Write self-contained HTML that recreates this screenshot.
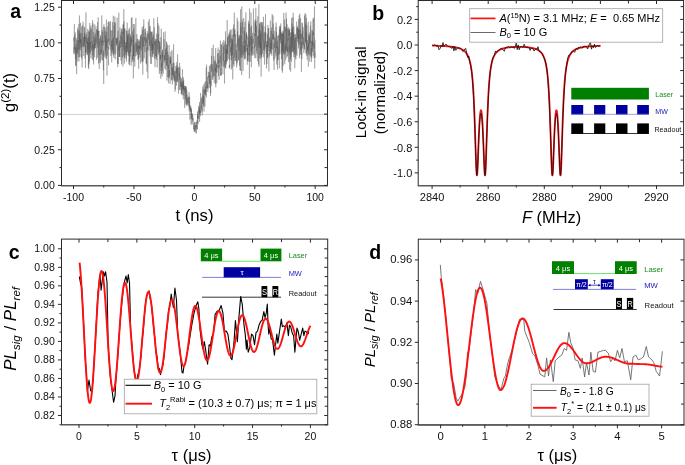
<!DOCTYPE html>
<html><head><meta charset="utf-8"><style>
html,body{margin:0;padding:0;background:#fff;width:685px;height:465px;overflow:hidden;font-family:"Liberation Sans", sans-serif;}
</style></head><body>
<svg width="685" height="465" viewBox="0 0 685 465" style="position:absolute;left:0;top:0;will-change:transform;font-family:&quot;Liberation Sans&quot;, sans-serif">
<line x1="61.50" y1="114.50" x2="327.50" y2="114.50" stroke="#d2d2d2" stroke-width="1" />
<path d="M73.50,41.40 L73.62,37.53 L73.74,44.98 L73.86,52.99 L73.98,47.33 L74.10,54.31 L74.23,40.64 L74.35,24.00 L74.47,47.82 L74.59,49.49 L74.71,35.06 L74.83,36.79 L74.95,40.06 L75.07,53.52 L75.19,41.81 L75.31,32.40 L75.43,58.90 L75.56,47.38 L75.68,66.14 L75.80,58.19 L75.92,65.37 L76.04,44.49 L76.16,57.91 L76.28,37.92 L76.40,39.41 L76.52,43.87 L76.64,74.15 L76.76,48.45 L76.89,42.08 L77.01,39.98 L77.13,61.33 L77.25,47.66 L77.37,54.17 L77.49,51.96 L77.61,27.67 L77.73,51.95 L77.85,41.88 L77.97,29.97 L78.09,49.04 L78.22,42.91 L78.34,40.03 L78.46,40.63 L78.58,57.38 L78.70,40.48 L78.82,23.81 L78.94,61.57 L79.06,30.30 L79.18,39.92 L79.30,49.80 L79.42,15.49 L79.55,31.57 L79.67,57.05 L79.79,40.51 L79.91,33.99 L80.03,43.93 L80.15,32.61 L80.27,42.34 L80.39,32.81 L80.51,22.80 L80.63,50.26 L80.75,38.85 L80.88,47.50 L81.00,39.84 L81.12,56.91 L81.24,49.01 L81.36,44.04 L81.48,29.82 L81.60,26.62 L81.72,58.69 L81.84,51.82 L81.96,33.10 L82.08,67.38 L82.21,47.52 L82.33,42.76 L82.45,25.18 L82.57,32.55 L82.69,45.75 L82.81,46.29 L82.93,44.76 L83.05,21.72 L83.17,47.07 L83.29,45.45 L83.41,36.93 L83.54,43.08 L83.66,44.08 L83.78,55.98 L83.90,41.67 L84.02,47.28 L84.14,26.38 L84.26,33.04 L84.38,41.83 L84.50,32.84 L84.62,45.94 L84.74,27.86 L84.87,41.60 L84.99,33.95 L85.11,58.29 L85.23,37.03 L85.35,63.45 L85.47,67.96 L85.59,45.49 L85.71,53.22 L85.83,39.41 L85.95,12.39 L86.07,52.34 L86.20,49.64 L86.32,38.87 L86.44,35.14 L86.56,43.83 L86.68,44.22 L86.80,32.43 L86.92,34.80 L87.04,54.97 L87.16,42.58 L87.28,41.09 L87.40,55.24 L87.53,38.18 L87.65,52.69 L87.77,28.94 L87.89,39.05 L88.01,40.40 L88.13,49.23 L88.25,43.10 L88.37,67.49 L88.49,56.25 L88.61,36.85 L88.73,69.19 L88.86,30.58 L88.98,64.23 L89.10,31.75 L89.22,52.54 L89.34,31.46 L89.46,39.87 L89.58,61.52 L89.70,25.36 L89.82,22.86 L89.94,42.43 L90.06,45.13 L90.19,43.65 L90.31,54.24 L90.43,27.32 L90.55,48.63 L90.67,42.25 L90.79,51.88 L90.91,49.71 L91.03,58.17 L91.15,25.27 L91.27,43.59 L91.39,29.06 L91.52,41.42 L91.64,50.60 L91.76,45.83 L91.88,48.86 L92.00,41.49 L92.12,46.47 L92.24,45.49 L92.36,59.49 L92.48,52.07 L92.60,20.14 L92.72,50.31 L92.85,55.28 L92.97,37.23 L93.09,23.35 L93.21,60.47 L93.33,44.31 L93.45,49.81 L93.57,64.46 L93.69,32.08 L93.81,41.92 L93.93,40.69 L94.05,51.38 L94.18,35.72 L94.30,48.62 L94.42,43.47 L94.54,56.00 L94.66,57.40 L94.78,24.30 L94.90,48.20 L95.02,37.84 L95.14,42.07 L95.26,47.35 L95.38,48.22 L95.51,33.46 L95.63,45.55 L95.75,43.60 L95.87,41.35 L95.99,26.37 L96.11,32.81 L96.23,36.68 L96.35,48.95 L96.47,59.57 L96.59,29.33 L96.71,29.11 L96.84,43.47 L96.96,34.62 L97.08,31.51 L97.20,30.87 L97.32,29.70 L97.44,47.56 L97.56,22.00 L97.68,57.82 L97.80,30.48 L97.92,35.25 L98.04,30.33 L98.17,17.29 L98.29,22.41 L98.41,56.51 L98.53,63.56 L98.65,31.07 L98.77,54.83 L98.89,41.82 L99.01,30.78 L99.13,62.98 L99.25,69.03 L99.37,38.31 L99.50,41.09 L99.62,44.86 L99.74,41.17 L99.86,52.83 L99.98,61.30 L100.10,43.84 L100.22,54.28 L100.34,62.99 L100.46,35.12 L100.58,42.48 L100.70,36.41 L100.83,54.51 L100.95,50.22 L101.07,54.64 L101.19,53.18 L101.31,39.15 L101.43,51.84 L101.55,37.07 L101.67,37.29 L101.79,15.44 L101.91,59.75 L102.03,30.18 L102.16,42.86 L102.28,41.88 L102.40,60.49 L102.52,47.67 L102.64,32.07 L102.76,42.77 L102.88,40.65 L103.00,45.47 L103.12,26.74 L103.24,41.99 L103.36,70.23 L103.49,50.68 L103.61,67.23 L103.73,83.86 L103.85,48.58 L103.97,24.43 L104.09,41.10 L104.21,56.91 L104.33,53.91 L104.45,27.06 L104.57,39.68 L104.69,41.10 L104.82,42.42 L104.94,41.23 L105.06,31.29 L105.18,34.56 L105.30,38.93 L105.42,55.24 L105.54,35.11 L105.66,50.60 L105.78,27.56 L105.90,58.21 L106.02,43.52 L106.15,41.83 L106.27,58.90 L106.39,19.42 L106.51,22.81 L106.63,47.75 L106.75,31.74 L106.87,36.84 L106.99,75.61 L107.11,38.50 L107.23,42.54 L107.35,40.67 L107.48,55.70 L107.60,45.24 L107.72,44.06 L107.84,26.36 L107.96,37.42 L108.08,41.83 L108.20,21.94 L108.32,48.95 L108.44,46.80 L108.56,65.30 L108.68,21.43 L108.81,29.27 L108.93,29.88 L109.05,33.10 L109.17,40.34 L109.29,38.97 L109.41,45.03 L109.53,44.41 L109.65,41.07 L109.77,22.18 L109.89,34.57 L110.01,42.53 L110.14,49.28 L110.26,50.00 L110.38,21.01 L110.50,35.21 L110.62,40.90 L110.74,46.27 L110.86,56.15 L110.98,42.65 L111.10,30.47 L111.22,46.87 L111.34,44.73 L111.47,44.65 L111.59,40.37 L111.71,62.42 L111.83,44.84 L111.95,52.86 L112.07,30.34 L112.19,51.78 L112.31,34.32 L112.43,22.05 L112.55,45.86 L112.67,49.59 L112.80,39.32 L112.92,41.83 L113.04,54.67 L113.16,35.83 L113.28,15.70 L113.40,45.15 L113.52,44.44 L113.64,55.34 L113.76,37.68 L113.88,57.96 L114.01,56.15 L114.13,25.24 L114.25,53.54 L114.37,27.81 L114.49,22.08 L114.61,38.46 L114.73,34.65 L114.85,16.54 L114.97,44.37 L115.09,49.50 L115.21,59.35 L115.34,41.29 L115.46,22.67 L115.58,29.40 L115.70,54.03 L115.82,52.91 L115.94,48.36 L116.06,38.05 L116.18,44.49 L116.30,39.06 L116.42,37.99 L116.54,45.71 L116.67,42.36 L116.79,39.17 L116.91,42.93 L117.03,35.32 L117.15,17.62 L117.27,34.18 L117.39,41.12 L117.51,63.68 L117.63,36.83 L117.75,67.05 L117.87,60.09 L118.00,30.79 L118.12,32.71 L118.24,43.80 L118.36,63.99 L118.48,46.66 L118.60,50.64 L118.72,33.61 L118.84,12.63 L118.96,39.05 L119.08,51.95 L119.20,57.02 L119.33,42.59 L119.45,44.15 L119.57,56.77 L119.69,40.36 L119.81,56.77 L119.93,27.48 L120.05,28.12 L120.17,27.83 L120.29,48.01 L120.41,35.22 L120.53,43.59 L120.66,46.91 L120.78,46.27 L120.90,58.70 L121.02,60.57 L121.14,31.60 L121.26,44.36 L121.38,39.08 L121.50,28.92 L121.62,64.32 L121.74,52.04 L121.86,39.62 L121.99,36.82 L122.11,46.77 L122.23,28.57 L122.35,39.17 L122.47,57.60 L122.59,53.94 L122.71,31.47 L122.83,35.90 L122.95,66.48 L123.07,24.46 L123.19,34.16 L123.32,24.52 L123.44,46.87 L123.56,45.73 L123.68,56.48 L123.80,9.08 L123.92,44.18 L124.04,21.37 L124.16,50.29 L124.28,39.79 L124.40,63.54 L124.52,46.87 L124.65,29.19 L124.77,58.11 L124.89,28.05 L125.01,37.56 L125.13,55.43 L125.25,48.41 L125.37,47.86 L125.49,42.57 L125.61,48.86 L125.73,52.63 L125.85,45.87 L125.98,55.22 L126.10,58.61 L126.22,42.56 L126.34,30.51 L126.46,61.72 L126.58,41.89 L126.70,50.35 L126.82,54.58 L126.94,30.90 L127.06,48.64 L127.18,22.56 L127.31,52.03 L127.43,36.95 L127.55,44.89 L127.67,51.70 L127.79,34.35 L127.91,43.95 L128.03,34.15 L128.15,42.56 L128.27,56.00 L128.39,43.27 L128.51,41.28 L128.64,29.56 L128.76,53.68 L128.88,42.47 L129.00,64.23 L129.12,33.54 L129.24,55.95 L129.36,65.33 L129.48,42.73 L129.60,27.67 L129.72,61.68 L129.84,56.04 L129.97,51.58 L130.09,56.58 L130.21,37.07 L130.33,52.41 L130.45,51.30 L130.57,34.43 L130.69,51.75 L130.81,36.38 L130.93,54.54 L131.05,57.65 L131.17,65.72 L131.30,17.92 L131.42,46.12 L131.54,38.83 L131.66,42.39 L131.78,39.92 L131.90,41.35 L132.02,17.32 L132.14,55.42 L132.26,62.13 L132.38,55.08 L132.50,59.25 L132.63,32.34 L132.75,31.39 L132.87,54.43 L132.99,59.98 L133.11,46.59 L133.23,24.02 L133.35,78.46 L133.47,35.20 L133.59,55.91 L133.71,28.56 L133.83,55.94 L133.96,45.70 L134.08,61.48 L134.20,54.64 L134.32,24.10 L134.44,31.41 L134.56,47.21 L134.68,53.26 L134.80,66.50 L134.92,47.11 L135.04,42.42 L135.16,43.11 L135.29,43.23 L135.41,56.52 L135.53,42.88 L135.65,42.53 L135.77,25.35 L135.89,17.90 L136.01,43.80 L136.13,51.93 L136.25,42.87 L136.37,49.89 L136.49,51.63 L136.62,42.79 L136.74,55.52 L136.86,34.20 L136.98,43.38 L137.10,38.81 L137.22,44.41 L137.34,51.44 L137.46,54.29 L137.58,45.11 L137.70,49.14 L137.82,39.02 L137.95,42.11 L138.07,59.65 L138.19,41.18 L138.31,59.40 L138.43,50.02 L138.55,45.86 L138.67,68.87 L138.79,40.87 L138.91,40.11 L139.03,44.10 L139.15,47.54 L139.28,46.89 L139.40,54.68 L139.52,45.55 L139.64,49.20 L139.76,40.88 L139.88,57.63 L140.00,39.02 L140.12,40.22 L140.24,43.90 L140.36,47.75 L140.48,34.94 L140.61,63.58 L140.73,36.13 L140.85,38.94 L140.97,38.42 L141.09,37.13 L141.21,50.52 L141.33,45.43 L141.45,33.85 L141.57,36.52 L141.69,39.41 L141.81,61.65 L141.94,35.14 L142.06,26.98 L142.18,29.05 L142.30,39.07 L142.42,62.21 L142.54,29.92 L142.66,44.00 L142.78,74.81 L142.90,37.22 L143.02,61.37 L143.14,58.85 L143.27,50.30 L143.39,25.66 L143.51,46.89 L143.63,38.60 L143.75,19.53 L143.87,21.52 L143.99,43.44 L144.11,45.23 L144.23,58.40 L144.35,51.08 L144.47,36.62 L144.60,37.00 L144.72,40.69 L144.84,29.27 L144.96,52.09 L145.08,42.84 L145.20,32.68 L145.32,34.58 L145.44,28.29 L145.56,37.00 L145.68,46.12 L145.80,37.45 L145.93,55.07 L146.05,63.31 L146.17,34.72 L146.29,42.98 L146.41,38.36 L146.53,64.27 L146.65,47.16 L146.77,50.24 L146.89,53.70 L147.01,71.63 L147.13,47.01 L147.26,31.25 L147.38,37.94 L147.50,50.60 L147.62,43.15 L147.74,33.32 L147.86,78.42 L147.98,44.74 L148.10,36.26 L148.22,34.55 L148.34,21.61 L148.46,28.90 L148.59,39.47 L148.71,39.67 L148.83,33.55 L148.95,50.51 L149.07,44.22 L149.19,32.24 L149.31,18.94 L149.43,45.91 L149.55,44.57 L149.67,41.50 L149.79,27.04 L149.92,44.52 L150.04,25.58 L150.16,56.51 L150.28,46.68 L150.40,46.90 L150.52,34.51 L150.64,31.31 L150.76,63.64 L150.88,56.19 L151.00,40.45 L151.12,53.07 L151.25,64.01 L151.37,31.81 L151.49,38.73 L151.61,38.81 L151.73,51.05 L151.85,32.21 L151.97,48.21 L152.09,31.50 L152.21,56.76 L152.33,56.09 L152.45,42.88 L152.58,54.30 L152.70,37.12 L152.82,42.38 L152.94,57.23 L153.06,44.85 L153.18,50.21 L153.30,34.46 L153.42,53.83 L153.54,51.48 L153.66,30.99 L153.78,18.27 L153.91,21.33 L154.03,45.47 L154.15,43.60 L154.27,27.34 L154.39,47.99 L154.51,58.62 L154.63,45.12 L154.75,41.04 L154.87,56.96 L154.99,67.13 L155.11,64.59 L155.24,38.66 L155.36,56.31 L155.48,48.75 L155.60,44.45 L155.72,39.50 L155.84,51.32 L155.96,41.11 L156.08,58.27 L156.20,51.83 L156.32,60.04 L156.44,33.60 L156.57,47.90 L156.69,56.70 L156.81,52.01 L156.93,50.47 L157.05,39.23 L157.17,67.42 L157.29,60.63 L157.41,52.63 L157.53,17.11 L157.65,36.45 L157.77,49.55 L157.90,39.57 L158.02,23.23 L158.14,51.23 L158.26,52.90 L158.38,33.75 L158.50,42.59 L158.62,40.59 L158.74,55.06 L158.86,25.75 L158.98,28.53 L159.10,42.52 L159.23,41.25 L159.35,74.06 L159.47,42.14 L159.59,52.29 L159.71,44.91 L159.83,42.09 L159.95,54.49 L160.07,70.74 L160.19,46.33 L160.31,59.69 L160.43,54.94 L160.56,58.34 L160.68,55.37 L160.80,78.79 L160.92,37.25 L161.04,48.78 L161.16,38.83 L161.28,28.79 L161.40,51.96 L161.52,73.51 L161.64,62.99 L161.76,66.79 L161.89,58.69 L162.01,52.05 L162.13,76.44 L162.25,49.30 L162.37,70.96 L162.49,50.14 L162.61,55.01 L162.73,57.51 L162.85,54.88 L162.97,60.41 L163.09,61.39 L163.22,73.82 L163.34,54.99 L163.46,33.67 L163.58,32.31 L163.70,40.01 L163.82,47.21 L163.94,63.10 L164.06,39.16 L164.18,56.34 L164.30,56.64 L164.42,59.30 L164.55,55.12 L164.67,61.22 L164.79,57.41 L164.91,68.81 L165.03,60.96 L165.15,31.35 L165.27,57.85 L165.39,59.89 L165.51,51.43 L165.63,49.63 L165.75,70.06 L165.88,60.12 L166.00,47.79 L166.12,55.14 L166.24,56.93 L166.36,41.28 L166.48,66.05 L166.60,57.82 L166.72,64.60 L166.84,42.69 L166.96,80.56 L167.08,66.66 L167.21,65.26 L167.33,52.41 L167.45,53.19 L167.57,44.78 L167.69,77.17 L167.81,52.11 L167.93,63.57 L168.05,67.73 L168.17,54.88 L168.29,70.75 L168.41,83.32 L168.54,65.12 L168.66,77.35 L168.78,68.40 L168.90,57.64 L169.02,58.43 L169.14,45.01 L169.26,64.18 L169.38,78.48 L169.50,70.37 L169.62,72.24 L169.74,75.53 L169.87,58.22 L169.99,69.76 L170.11,83.90 L170.23,55.96 L170.35,64.59 L170.47,59.87 L170.59,62.72 L170.71,57.47 L170.83,63.87 L170.95,51.69 L171.07,60.32 L171.20,60.90 L171.32,60.95 L171.44,80.33 L171.56,67.29 L171.68,68.48 L171.80,63.94 L171.92,80.08 L172.04,49.94 L172.16,65.67 L172.28,79.16 L172.40,84.36 L172.53,70.21 L172.65,68.51 L172.77,75.01 L172.89,67.14 L173.01,74.65 L173.13,63.04 L173.25,75.89 L173.37,69.33 L173.49,59.54 L173.61,44.16 L173.73,79.48 L173.86,74.38 L173.98,78.24 L174.10,62.67 L174.22,81.64 L174.34,75.41 L174.46,71.24 L174.58,80.59 L174.70,80.59 L174.82,76.18 L174.94,91.90 L175.06,85.83 L175.19,76.21 L175.31,71.11 L175.43,74.49 L175.55,89.68 L175.67,77.54 L175.79,65.92 L175.91,68.43 L176.03,74.59 L176.15,82.33 L176.27,68.44 L176.39,79.88 L176.52,85.54 L176.64,82.35 L176.76,61.89 L176.88,73.40 L177.00,65.05 L177.12,80.22 L177.24,67.56 L177.36,81.75 L177.48,77.95 L177.60,54.34 L177.72,70.08 L177.85,81.69 L177.97,78.18 L178.09,74.73 L178.21,67.12 L178.33,82.49 L178.45,93.81 L178.57,81.16 L178.69,78.83 L178.81,78.28 L178.93,68.03 L179.05,77.02 L179.18,73.01 L179.30,89.82 L179.42,73.12 L179.54,62.88 L179.66,74.52 L179.78,79.24 L179.90,80.36 L180.02,66.82 L180.14,90.02 L180.26,83.41 L180.38,78.89 L180.51,76.81 L180.63,86.92 L180.75,81.01 L180.87,86.12 L180.99,83.11 L181.11,85.45 L181.23,93.97 L181.35,85.08 L181.47,78.06 L181.59,93.27 L181.71,87.66 L181.84,80.65 L181.96,94.82 L182.08,85.07 L182.20,95.22 L182.32,78.09 L182.44,69.09 L182.56,71.71 L182.68,89.60 L182.80,82.37 L182.92,87.48 L183.04,87.90 L183.17,77.01 L183.29,99.38 L183.41,81.41 L183.53,90.14 L183.65,79.33 L183.77,88.89 L183.89,95.66 L184.01,88.77 L184.13,85.60 L184.25,91.12 L184.37,88.03 L184.50,95.80 L184.62,107.96 L184.74,85.85 L184.86,87.62 L184.98,91.93 L185.10,92.78 L185.22,86.04 L185.34,97.12 L185.46,99.17 L185.58,95.71 L185.70,86.15 L185.83,104.76 L185.95,86.74 L186.07,99.95 L186.19,103.51 L186.31,87.41 L186.43,97.28 L186.55,105.99 L186.67,99.90 L186.79,91.52 L186.91,90.21 L187.03,101.56 L187.16,96.39 L187.28,94.78 L187.40,104.19 L187.52,98.03 L187.64,100.98 L187.76,104.66 L187.88,104.77 L188.00,101.59 L188.12,102.25 L188.24,106.42 L188.36,105.94 L188.49,96.76 L188.61,102.78 L188.73,99.08 L188.85,97.60 L188.97,101.78 L189.09,92.10 L189.21,111.11 L189.33,101.80 L189.45,108.89 L189.57,96.56 L189.69,97.96 L189.82,119.55 L189.94,114.23 L190.06,105.31 L190.18,105.04 L190.30,105.79 L190.42,110.74 L190.54,108.24 L190.66,107.59 L190.78,112.01 L190.90,106.44 L191.02,124.56 L191.15,109.46 L191.27,118.73 L191.39,108.63 L191.51,115.28 L191.63,119.10 L191.75,113.00 L191.87,119.98 L191.99,120.48 L192.11,124.37 L192.23,117.37 L192.35,115.51 L192.48,113.70 L192.60,119.95 L192.72,115.08 L192.84,120.56 L192.96,121.75 L193.08,119.44 L193.20,118.02 L193.32,124.85 L193.44,125.09 L193.56,125.41 L193.68,125.06 L193.81,129.78 L193.93,122.62 L194.05,129.05 L194.17,126.32 L194.29,132.00 L194.41,128.13 L194.53,128.71 L194.65,131.85 L194.77,122.19 L194.89,127.92 L195.02,122.02 L195.14,124.66 L195.26,130.54 L195.38,128.98 L195.50,125.23 L195.62,126.27 L195.74,125.85 L195.86,126.77 L195.98,132.69 L196.10,125.59 L196.22,133.65 L196.35,122.09 L196.47,126.40 L196.59,125.91 L196.71,123.26 L196.83,120.59 L196.95,127.84 L197.07,128.88 L197.19,125.33 L197.31,129.46 L197.43,124.02 L197.55,111.44 L197.68,123.60 L197.80,114.91 L197.92,124.29 L198.04,115.64 L198.16,118.24 L198.28,116.48 L198.40,112.83 L198.52,106.27 L198.64,113.77 L198.76,113.65 L198.88,118.93 L199.01,110.28 L199.13,114.20 L199.25,107.95 L199.37,112.18 L199.49,101.97 L199.61,121.93 L199.73,112.18 L199.85,105.13 L199.97,111.58 L200.09,113.64 L200.21,110.19 L200.34,116.18 L200.46,107.04 L200.58,92.94 L200.70,100.03 L200.82,112.95 L200.94,111.12 L201.06,107.86 L201.18,98.82 L201.30,109.52 L201.42,108.28 L201.54,98.03 L201.67,97.65 L201.79,104.98 L201.91,109.27 L202.03,111.64 L202.15,105.74 L202.27,115.28 L202.39,95.36 L202.51,103.98 L202.63,96.15 L202.75,86.37 L202.87,90.50 L203.00,105.78 L203.12,91.54 L203.24,89.05 L203.36,101.74 L203.48,102.75 L203.60,96.40 L203.72,106.50 L203.84,84.21 L203.96,111.49 L204.08,101.76 L204.20,95.26 L204.33,94.50 L204.45,91.14 L204.57,89.89 L204.69,93.03 L204.81,82.43 L204.93,106.68 L205.05,90.04 L205.17,95.04 L205.29,88.09 L205.41,86.93 L205.53,95.29 L205.66,92.74 L205.78,80.98 L205.90,84.09 L206.02,91.98 L206.14,69.93 L206.26,67.39 L206.38,97.43 L206.50,82.89 L206.62,64.62 L206.74,78.32 L206.86,82.60 L206.99,85.81 L207.11,88.26 L207.23,85.25 L207.35,87.76 L207.47,76.65 L207.59,85.91 L207.71,85.97 L207.83,92.12 L207.95,82.06 L208.07,88.96 L208.19,82.57 L208.32,71.77 L208.44,77.26 L208.56,75.74 L208.68,76.71 L208.80,78.98 L208.92,80.30 L209.04,81.58 L209.16,71.88 L209.28,87.86 L209.40,66.05 L209.52,77.35 L209.65,84.04 L209.77,81.43 L209.89,82.83 L210.01,74.97 L210.13,82.63 L210.25,65.40 L210.37,82.65 L210.49,96.06 L210.61,81.62 L210.73,93.15 L210.85,74.64 L210.98,64.10 L211.10,67.60 L211.22,85.90 L211.34,80.22 L211.46,55.93 L211.58,69.41 L211.70,72.08 L211.82,61.73 L211.94,48.00 L212.06,58.73 L212.18,69.55 L212.31,67.15 L212.43,64.28 L212.55,75.94 L212.67,80.02 L212.79,68.84 L212.91,78.38 L213.03,69.35 L213.15,67.48 L213.27,44.82 L213.39,76.32 L213.51,68.73 L213.64,68.86 L213.76,62.59 L213.88,56.30 L214.00,71.69 L214.12,74.92 L214.24,83.10 L214.36,75.74 L214.48,60.76 L214.60,65.61 L214.72,76.30 L214.84,69.62 L214.97,65.36 L215.09,60.39 L215.21,71.50 L215.33,67.86 L215.45,83.85 L215.57,76.88 L215.69,48.21 L215.81,87.36 L215.93,68.12 L216.05,62.23 L216.17,68.25 L216.30,72.63 L216.42,64.74 L216.54,64.02 L216.66,64.70 L216.78,83.32 L216.90,65.12 L217.02,72.40 L217.14,69.06 L217.26,60.80 L217.38,56.31 L217.50,53.47 L217.63,68.02 L217.75,52.89 L217.87,50.11 L217.99,50.35 L218.11,47.52 L218.23,63.67 L218.35,63.85 L218.47,53.08 L218.59,76.31 L218.71,59.36 L218.83,67.14 L218.96,65.29 L219.08,79.88 L219.20,70.64 L219.32,61.16 L219.44,51.24 L219.56,50.00 L219.68,61.41 L219.80,62.46 L219.92,69.28 L220.04,55.79 L220.16,62.71 L220.29,53.30 L220.41,40.69 L220.53,59.98 L220.65,75.84 L220.77,68.77 L220.89,75.19 L221.01,72.22 L221.13,44.64 L221.25,56.34 L221.37,75.44 L221.49,51.37 L221.62,44.54 L221.74,62.31 L221.86,65.69 L221.98,61.83 L222.10,54.82 L222.22,50.75 L222.34,44.59 L222.46,44.12 L222.58,44.29 L222.70,42.19 L222.82,49.87 L222.95,74.26 L223.07,58.49 L223.19,53.38 L223.31,61.08 L223.43,46.43 L223.55,60.60 L223.67,66.86 L223.79,40.02 L223.91,48.67 L224.03,53.59 L224.15,45.46 L224.28,43.79 L224.40,51.85 L224.52,83.51 L224.64,63.16 L224.76,60.56 L224.88,66.46 L225.00,52.85 L225.12,41.38 L225.24,60.43 L225.36,67.76 L225.48,31.39 L225.61,59.71 L225.73,68.58 L225.85,51.55 L225.97,49.27 L226.09,62.18 L226.21,44.80 L226.33,59.45 L226.45,64.38 L226.57,51.51 L226.69,44.51 L226.81,60.70 L226.94,49.37 L227.06,54.19 L227.18,20.06 L227.30,61.13 L227.42,36.57 L227.54,53.24 L227.66,53.99 L227.78,43.93 L227.90,41.77 L228.02,37.26 L228.14,48.16 L228.27,58.98 L228.39,58.13 L228.51,45.66 L228.63,44.69 L228.75,34.89 L228.87,46.36 L228.99,38.62 L229.11,33.07 L229.23,49.00 L229.35,68.52 L229.47,64.78 L229.60,67.76 L229.72,31.49 L229.84,60.51 L229.96,35.52 L230.08,43.13 L230.20,29.47 L230.32,37.88 L230.44,51.04 L230.56,52.11 L230.68,48.56 L230.80,47.36 L230.93,55.76 L231.05,49.64 L231.17,29.66 L231.29,69.63 L231.41,45.77 L231.53,59.80 L231.65,46.40 L231.77,38.34 L231.89,49.15 L232.01,38.91 L232.13,67.62 L232.26,34.58 L232.38,55.37 L232.50,40.26 L232.62,45.53 L232.74,79.38 L232.86,56.82 L232.98,44.71 L233.10,28.18 L233.22,43.66 L233.34,43.90 L233.46,64.42 L233.59,29.16 L233.71,24.38 L233.83,46.27 L233.95,49.24 L234.07,66.50 L234.19,35.31 L234.31,12.55 L234.43,37.13 L234.55,30.19 L234.67,39.07 L234.79,58.03 L234.92,28.89 L235.04,60.95 L235.16,48.02 L235.28,41.77 L235.40,34.06 L235.52,39.81 L235.64,40.05 L235.76,54.40 L235.88,60.96 L236.00,43.81 L236.12,53.45 L236.25,60.90 L236.37,60.28 L236.49,50.34 L236.61,67.53 L236.73,61.02 L236.85,64.58 L236.97,41.35 L237.09,38.36 L237.21,17.83 L237.33,62.46 L237.45,51.91 L237.58,31.42 L237.70,45.77 L237.82,47.07 L237.94,20.91 L238.06,47.18 L238.18,57.67 L238.30,59.73 L238.42,38.52 L238.54,38.91 L238.66,60.43 L238.78,55.47 L238.91,35.96 L239.03,35.41 L239.15,51.07 L239.27,34.83 L239.39,35.47 L239.51,65.69 L239.63,46.81 L239.75,37.48 L239.87,50.16 L239.99,70.25 L240.11,46.43 L240.24,33.14 L240.36,22.51 L240.48,70.91 L240.60,9.24 L240.72,57.26 L240.84,30.50 L240.96,26.94 L241.08,30.16 L241.20,40.86 L241.32,57.69 L241.44,34.73 L241.57,51.95 L241.69,75.16 L241.81,6.45 L241.93,33.67 L242.05,19.42 L242.17,54.47 L242.29,23.92 L242.41,22.34 L242.53,22.79 L242.65,43.02 L242.77,58.19 L242.90,45.02 L243.02,71.03 L243.14,64.60 L243.26,41.56 L243.38,55.47 L243.50,44.85 L243.62,44.13 L243.74,17.94 L243.86,26.06 L243.98,43.30 L244.10,27.20 L244.23,52.74 L244.35,47.05 L244.47,31.03 L244.59,58.66 L244.71,46.30 L244.83,59.68 L244.95,41.20 L245.07,21.74 L245.19,52.37 L245.31,39.80 L245.43,54.23 L245.56,57.47 L245.68,58.57 L245.80,24.00 L245.92,12.34 L246.04,36.48 L246.16,51.89 L246.28,33.63 L246.40,46.98 L246.52,32.38 L246.64,38.94 L246.76,39.08 L246.89,34.87 L247.01,50.12 L247.13,47.87 L247.25,64.79 L247.37,48.34 L247.49,60.94 L247.61,44.52 L247.73,54.97 L247.85,41.35 L247.97,36.83 L248.09,60.90 L248.22,53.10 L248.34,54.77 L248.46,33.05 L248.58,20.71 L248.70,31.69 L248.82,47.13 L248.94,23.80 L249.06,62.10 L249.18,23.36 L249.30,51.06 L249.42,78.37 L249.55,8.55 L249.67,22.34 L249.79,55.89 L249.91,40.45 L250.03,45.37 L250.15,41.30 L250.27,61.68 L250.39,51.37 L250.51,36.59 L250.63,39.74 L250.75,27.18 L250.88,41.57 L251.00,12.39 L251.12,51.80 L251.24,39.26 L251.36,67.23 L251.48,58.70 L251.60,25.50 L251.72,54.71 L251.84,35.76 L251.96,43.37 L252.08,56.01 L252.21,47.05 L252.33,49.19 L252.45,48.84 L252.57,32.88 L252.69,34.18 L252.81,49.99 L252.93,54.23 L253.05,38.93 L253.17,43.84 L253.29,29.33 L253.41,8.40 L253.54,31.71 L253.66,43.00 L253.78,44.76 L253.90,53.57 L254.02,54.21 L254.14,55.45 L254.26,47.62 L254.38,48.03 L254.50,32.96 L254.62,47.66 L254.74,45.07 L254.87,58.20 L254.99,21.36 L255.11,36.00 L255.23,19.50 L255.35,32.26 L255.47,23.35 L255.59,45.71 L255.71,33.28 L255.83,7.69 L255.95,58.25 L256.07,27.37 L256.20,20.65 L256.32,37.08 L256.44,32.65 L256.56,26.03 L256.68,51.12 L256.80,37.12 L256.92,53.92 L257.04,51.38 L257.16,50.61 L257.28,44.36 L257.40,40.55 L257.53,36.52 L257.65,61.15 L257.77,16.38 L257.89,27.23 L258.01,32.90 L258.13,47.19 L258.25,43.64 L258.37,35.24 L258.49,37.03 L258.61,64.62 L258.73,32.68 L258.86,3.98 L258.98,66.83 L259.10,29.32 L259.22,37.57 L259.34,43.92 L259.46,24.32 L259.58,58.07 L259.70,40.29 L259.82,23.09 L259.94,45.04 L260.06,47.96 L260.19,40.91 L260.31,48.31 L260.43,21.96 L260.55,54.42 L260.67,30.87 L260.79,58.99 L260.91,33.56 L261.03,43.80 L261.15,76.61 L261.27,42.49 L261.39,56.53 L261.52,48.29 L261.64,22.03 L261.76,57.20 L261.88,56.44 L262.00,23.32 L262.12,40.86 L262.24,21.97 L262.36,38.10 L262.48,54.07 L262.60,43.26 L262.72,26.09 L262.85,29.91 L262.97,42.37 L263.09,41.73 L263.21,43.86 L263.33,50.03 L263.45,16.78 L263.57,42.27 L263.69,57.35 L263.81,48.68 L263.93,32.74 L264.05,33.86 L264.18,44.17 L264.30,51.21 L264.42,42.03 L264.54,64.52 L264.66,59.60 L264.78,31.76 L264.90,48.69 L265.02,37.37 L265.14,26.19 L265.26,33.73 L265.38,42.06 L265.51,14.13 L265.63,33.48 L265.75,47.02 L265.87,32.62 L265.99,36.92 L266.11,53.66 L266.23,41.35 L266.35,44.50 L266.47,68.37 L266.59,44.60 L266.71,46.06 L266.84,48.12 L266.96,64.11 L267.08,47.00 L267.20,42.83 L267.32,40.95 L267.44,57.35 L267.56,33.91 L267.68,58.40 L267.80,45.25 L267.92,24.98 L268.04,51.46 L268.17,49.05 L268.29,28.05 L268.41,47.37 L268.53,46.21 L268.65,39.34 L268.77,28.36 L268.89,71.48 L269.01,53.24 L269.13,55.61 L269.25,56.64 L269.37,53.58 L269.50,53.37 L269.62,38.27 L269.74,54.02 L269.86,40.63 L269.98,36.94 L270.10,51.90 L270.22,40.52 L270.34,20.60 L270.46,37.98 L270.58,50.66 L270.70,43.09 L270.83,54.33 L270.95,38.65 L271.07,30.84 L271.19,53.04 L271.31,44.98 L271.43,27.55 L271.55,48.78 L271.67,39.74 L271.79,55.71 L271.91,53.01 L272.03,48.96 L272.16,14.12 L272.28,47.48 L272.40,49.04 L272.52,49.47 L272.64,44.34 L272.76,33.73 L272.88,39.75 L273.00,15.63 L273.12,39.43 L273.24,23.51 L273.36,38.61 L273.49,34.37 L273.61,60.81 L273.73,43.82 L273.85,43.07 L273.97,45.31 L274.09,69.96 L274.21,30.80 L274.33,47.17 L274.45,47.82 L274.57,45.46 L274.69,45.11 L274.82,36.90 L274.94,58.57 L275.06,54.17 L275.18,38.40 L275.30,40.27 L275.42,47.01 L275.54,49.56 L275.66,52.92 L275.78,42.89 L275.90,26.89 L276.03,55.80 L276.15,22.46 L276.27,31.23 L276.39,47.98 L276.51,32.02 L276.63,61.06 L276.75,64.49 L276.87,58.78 L276.99,47.41 L277.11,46.32 L277.23,48.77 L277.36,40.83 L277.48,69.69 L277.60,35.71 L277.72,60.44 L277.84,50.64 L277.96,47.43 L278.08,57.03 L278.20,59.81 L278.32,55.09 L278.44,42.25 L278.56,34.47 L278.69,34.80 L278.81,54.93 L278.93,52.31 L279.05,53.97 L279.17,36.27 L279.29,68.40 L279.41,26.07 L279.53,48.34 L279.65,52.19 L279.77,37.68 L279.89,28.72 L280.02,37.64 L280.14,28.46 L280.26,40.32 L280.38,26.17 L280.50,25.96 L280.62,43.34 L280.74,23.45 L280.86,39.92 L280.98,40.92 L281.10,53.95 L281.22,45.77 L281.35,31.99 L281.47,59.00 L281.59,33.64 L281.71,37.53 L281.83,38.44 L281.95,70.55 L282.07,43.36 L282.19,33.64 L282.31,51.88 L282.43,40.85 L282.55,72.76 L282.68,33.33 L282.80,50.58 L282.92,30.74 L283.04,65.83 L283.16,33.06 L283.28,45.07 L283.40,31.56 L283.52,53.97 L283.64,49.99 L283.76,13.00 L283.88,52.72 L284.01,51.12 L284.13,45.56 L284.25,55.21 L284.37,26.59 L284.49,19.67 L284.61,51.08 L284.73,64.30 L284.85,26.82 L284.97,27.64 L285.09,31.34 L285.21,27.01 L285.34,53.18 L285.46,44.14 L285.58,59.86 L285.70,60.30 L285.82,29.27 L285.94,50.64 L286.06,12.47 L286.18,40.99 L286.30,50.23 L286.42,31.62 L286.54,18.64 L286.67,35.65 L286.79,57.68 L286.91,37.14 L287.03,24.14 L287.15,48.31 L287.27,51.94 L287.39,28.78 L287.51,40.11 L287.63,56.19 L287.75,46.83 L287.87,51.70 L288.00,38.08 L288.12,40.49 L288.24,27.03 L288.36,32.73 L288.48,62.14 L288.60,36.64 L288.72,30.30 L288.84,36.00 L288.96,28.57 L289.08,49.01 L289.20,54.20 L289.33,29.85 L289.45,55.68 L289.57,69.84 L289.69,28.61 L289.81,51.26 L289.93,45.84 L290.05,59.97 L290.17,59.03 L290.29,56.84 L290.41,46.54 L290.53,37.08 L290.66,71.61 L290.78,32.13 L290.90,57.16 L291.02,55.66 L291.14,33.08 L291.26,42.82 L291.38,61.74 L291.50,17.97 L291.62,52.99 L291.74,38.64 L291.86,39.26 L291.99,23.57 L292.11,47.74 L292.23,28.79 L292.35,51.44 L292.47,27.30 L292.59,51.71 L292.71,46.52 L292.83,17.28 L292.95,37.72 L293.07,40.40 L293.19,12.79 L293.32,37.14 L293.44,52.38 L293.56,32.30 L293.68,57.11 L293.80,27.20 L293.92,26.19 L294.04,49.23 L294.16,49.93 L294.28,39.51 L294.40,41.61 L294.52,54.46 L294.65,34.43 L294.77,68.24 L294.89,47.40 L295.01,47.02 L295.13,45.32 L295.25,37.80 L295.37,57.69 L295.49,34.15 L295.61,44.11 L295.73,50.20 L295.85,59.48 L295.98,57.10 L296.10,37.10 L296.22,54.25 L296.34,40.93 L296.46,28.00 L296.58,28.38 L296.70,21.54 L296.82,45.59 L296.94,55.81 L297.06,28.52 L297.18,37.73 L297.31,27.18 L297.43,41.60 L297.55,26.25 L297.67,30.77 L297.79,32.45 L297.91,35.21 L298.03,36.58 L298.15,38.71 L298.27,38.80 L298.39,28.89 L298.51,48.36 L298.64,19.22 L298.76,43.09 L298.88,28.94 L299.00,42.88 L299.12,44.91 L299.24,15.36 L299.36,45.72 L299.48,58.26 L299.60,50.96 L299.72,45.81 L299.84,13.76 L299.97,39.01 L300.09,29.57 L300.21,54.68 L300.33,37.12 L300.45,32.98 L300.57,18.32 L300.69,50.71 L300.81,33.85 L300.93,37.75 L301.05,54.92 L301.17,41.93 L301.30,45.09 L301.42,71.82 L301.54,33.90 L301.66,34.66 L301.78,47.35 L301.90,59.02 L302.02,22.46 L302.14,38.21 L302.26,28.47 L302.38,23.36 L302.50,48.40 L302.63,31.11 L302.75,44.77 L302.87,42.45 L302.99,42.75 L303.11,41.65 L303.23,27.19 L303.35,40.03 L303.47,43.62 L303.59,45.22 L303.71,37.20 L303.83,53.23 L303.96,48.14 L304.08,42.30 L304.20,48.96 L304.32,43.15 L304.44,49.54 L304.56,15.61 L304.68,24.36 L304.80,35.77 L304.92,42.30 L305.04,13.18 L305.16,37.41 L305.29,42.72 L305.41,37.66 L305.53,37.62 L305.65,23.29 L305.77,41.83 L305.89,14.34 L306.01,53.03 L306.13,32.57 L306.25,54.58 L306.37,17.99 L306.49,45.87 L306.62,42.33 L306.74,29.57 L306.86,25.27 L306.98,56.00 L307.10,46.06 L307.22,59.67 L307.34,39.78 L307.46,42.87 L307.58,46.08 L307.70,50.44 L307.82,46.56 L307.95,51.24 L308.07,34.68 L308.19,21.86 L308.31,66.61 L308.43,43.04 L308.55,46.97 L308.67,35.14 L308.79,53.89 L308.91,43.43 L309.03,55.03 L309.15,32.48 L309.28,40.23 L309.40,43.62 L309.52,36.71 L309.64,44.72 L309.76,61.69 L309.88,33.78 L310.00,37.77 L310.12,43.51 L310.24,28.71 L310.36,25.68 L310.48,55.69 L310.61,51.64 L310.73,21.40 L310.85,23.07 L310.97,51.08 L311.09,56.83 L311.21,49.77 L311.33,47.96 L311.45,62.06 L311.57,41.08 L311.69,58.11 L311.81,57.20 L311.94,29.57 L312.06,50.35 L312.18,42.40 L312.30,33.30 L312.42,30.90 L312.54,45.84 L312.66,40.89 L312.78,52.18 L312.90,18.75 L313.02,33.01 L313.14,55.79 L313.27,41.40 L313.39,32.18 L313.51,35.22 L313.63,17.68 L313.75,23.61 L313.87,48.45 L313.99,42.60 L314.11,58.09 L314.23,38.19 L314.35,39.47 L314.47,6.29 L314.60,40.16 L314.72,68.63 L314.84,50.16 L314.96,39.96 L315.08,57.74 L315.20,52.69" fill="none" stroke="#4c4c4c" stroke-width="0.32" stroke-linejoin="round" />
<rect x="61.5" y="0.5" width="266.0" height="185.0" fill="none" stroke="#2a2a2a" stroke-width="1"/>
<line x1="61.00" y1="185.70" x2="328.00" y2="185.70" stroke="#5a5a5a" stroke-width="1.5" />
<line x1="73.50" y1="185.50" x2="73.50" y2="189.00" stroke="#2a2a2a" stroke-width="1" />
<line x1="73.50" y1="0.50" x2="73.50" y2="4.00" stroke="#2a2a2a" stroke-width="1" />
<line x1="133.93" y1="185.50" x2="133.93" y2="189.00" stroke="#2a2a2a" stroke-width="1" />
<line x1="133.93" y1="0.50" x2="133.93" y2="4.00" stroke="#2a2a2a" stroke-width="1" />
<line x1="194.35" y1="185.50" x2="194.35" y2="189.00" stroke="#2a2a2a" stroke-width="1" />
<line x1="194.35" y1="0.50" x2="194.35" y2="4.00" stroke="#2a2a2a" stroke-width="1" />
<line x1="254.77" y1="185.50" x2="254.77" y2="189.00" stroke="#2a2a2a" stroke-width="1" />
<line x1="254.77" y1="0.50" x2="254.77" y2="4.00" stroke="#2a2a2a" stroke-width="1" />
<line x1="315.20" y1="185.50" x2="315.20" y2="189.00" stroke="#2a2a2a" stroke-width="1" />
<line x1="315.20" y1="0.50" x2="315.20" y2="4.00" stroke="#2a2a2a" stroke-width="1" />
<line x1="103.71" y1="185.50" x2="103.71" y2="187.50" stroke="#2a2a2a" stroke-width="1" />
<line x1="103.71" y1="0.50" x2="103.71" y2="3.50" stroke="#2a2a2a" stroke-width="1" />
<line x1="164.14" y1="185.50" x2="164.14" y2="187.50" stroke="#2a2a2a" stroke-width="1" />
<line x1="164.14" y1="0.50" x2="164.14" y2="3.50" stroke="#2a2a2a" stroke-width="1" />
<line x1="224.56" y1="185.50" x2="224.56" y2="187.50" stroke="#2a2a2a" stroke-width="1" />
<line x1="224.56" y1="0.50" x2="224.56" y2="3.50" stroke="#2a2a2a" stroke-width="1" />
<line x1="284.99" y1="185.50" x2="284.99" y2="187.50" stroke="#2a2a2a" stroke-width="1" />
<line x1="284.99" y1="0.50" x2="284.99" y2="3.50" stroke="#2a2a2a" stroke-width="1" />
<line x1="58.00" y1="185.40" x2="61.50" y2="185.40" stroke="#2a2a2a" stroke-width="1" />
<line x1="327.50" y1="185.40" x2="324.00" y2="185.40" stroke="#2a2a2a" stroke-width="1" />
<line x1="58.00" y1="149.76" x2="61.50" y2="149.76" stroke="#2a2a2a" stroke-width="1" />
<line x1="327.50" y1="149.76" x2="324.00" y2="149.76" stroke="#2a2a2a" stroke-width="1" />
<line x1="58.00" y1="114.12" x2="61.50" y2="114.12" stroke="#2a2a2a" stroke-width="1" />
<line x1="327.50" y1="114.12" x2="324.00" y2="114.12" stroke="#2a2a2a" stroke-width="1" />
<line x1="58.00" y1="78.48" x2="61.50" y2="78.48" stroke="#2a2a2a" stroke-width="1" />
<line x1="327.50" y1="78.48" x2="324.00" y2="78.48" stroke="#2a2a2a" stroke-width="1" />
<line x1="58.00" y1="42.84" x2="61.50" y2="42.84" stroke="#2a2a2a" stroke-width="1" />
<line x1="327.50" y1="42.84" x2="324.00" y2="42.84" stroke="#2a2a2a" stroke-width="1" />
<line x1="58.00" y1="7.20" x2="61.50" y2="7.20" stroke="#2a2a2a" stroke-width="1" />
<line x1="327.50" y1="7.20" x2="324.00" y2="7.20" stroke="#2a2a2a" stroke-width="1" />
<line x1="59.50" y1="167.58" x2="61.50" y2="167.58" stroke="#2a2a2a" stroke-width="1" />
<line x1="327.50" y1="167.58" x2="324.50" y2="167.58" stroke="#2a2a2a" stroke-width="1" />
<line x1="59.50" y1="131.94" x2="61.50" y2="131.94" stroke="#2a2a2a" stroke-width="1" />
<line x1="327.50" y1="131.94" x2="324.50" y2="131.94" stroke="#2a2a2a" stroke-width="1" />
<line x1="59.50" y1="96.30" x2="61.50" y2="96.30" stroke="#2a2a2a" stroke-width="1" />
<line x1="327.50" y1="96.30" x2="324.50" y2="96.30" stroke="#2a2a2a" stroke-width="1" />
<line x1="59.50" y1="60.66" x2="61.50" y2="60.66" stroke="#2a2a2a" stroke-width="1" />
<line x1="327.50" y1="60.66" x2="324.50" y2="60.66" stroke="#2a2a2a" stroke-width="1" />
<line x1="59.50" y1="25.02" x2="61.50" y2="25.02" stroke="#2a2a2a" stroke-width="1" />
<line x1="327.50" y1="25.02" x2="324.50" y2="25.02" stroke="#2a2a2a" stroke-width="1" />
<text x="73.50" y="201.00" font-size="10.5" text-anchor="middle" fill="#111" font-weight="normal" >-100</text>
<text x="133.93" y="201.00" font-size="10.5" text-anchor="middle" fill="#111" font-weight="normal" >-50</text>
<text x="194.35" y="201.00" font-size="10.5" text-anchor="middle" fill="#111" font-weight="normal" >0</text>
<text x="254.77" y="201.00" font-size="10.5" text-anchor="middle" fill="#111" font-weight="normal" >50</text>
<text x="315.20" y="201.00" font-size="10.5" text-anchor="middle" fill="#111" font-weight="normal" >100</text>
<text x="54.80" y="189.18" font-size="10.5" text-anchor="end" fill="#111" font-weight="normal" >0.00</text>
<text x="54.80" y="153.54" font-size="10.5" text-anchor="end" fill="#111" font-weight="normal" >0.25</text>
<text x="54.80" y="117.90" font-size="10.5" text-anchor="end" fill="#111" font-weight="normal" >0.50</text>
<text x="54.80" y="82.26" font-size="10.5" text-anchor="end" fill="#111" font-weight="normal" >0.75</text>
<text x="54.80" y="46.62" font-size="10.5" text-anchor="end" fill="#111" font-weight="normal" >1.00</text>
<text x="54.80" y="10.98" font-size="10.5" text-anchor="end" fill="#111" font-weight="normal" >1.25</text>
<text x="10.30" y="18.30" font-size="19.5" text-anchor="start" fill="#000" font-weight="bold" >a</text>
<text x="194.50" y="220.80" font-size="16.7" text-anchor="middle" fill="#000" font-weight="normal" >t (ns)</text>
<text transform="translate(15.3,92.5) rotate(-90)" font-size="17" text-anchor="middle">g<tspan font-size="11.5" dy="-6.6">(2)</tspan><tspan dy="6.6">(t)</tspan></text>
<path d="M432.10,45.61 L432.24,45.62 L432.38,45.62 L432.52,45.62 L432.66,45.63 L432.80,45.63 L432.94,45.63 L433.08,45.64 L433.22,45.64 L433.36,45.64 L433.50,45.65 L433.64,45.65 L433.78,45.66 L433.92,45.66 L434.07,45.66 L434.21,45.67 L434.35,45.67 L434.49,45.68 L434.63,45.68 L434.77,45.68 L434.91,45.69 L435.05,45.69 L435.19,45.70 L435.33,45.70 L435.47,45.70 L435.61,45.71 L435.75,45.71 L435.89,45.72 L436.03,45.72 L436.17,45.73 L436.31,45.73 L436.45,45.74 L436.59,45.74 L436.73,45.75 L436.87,45.75 L437.01,45.75 L437.15,45.76 L437.29,45.76 L437.43,45.77 L437.57,45.77 L437.71,45.78 L437.86,45.78 L438.00,45.79 L438.14,45.79 L438.28,45.80 L438.42,45.81 L438.56,45.81 L438.70,45.82 L438.84,45.82 L438.98,45.83 L439.12,45.83 L439.26,45.84 L439.40,45.84 L439.54,45.85 L439.68,45.86 L439.82,45.86 L439.96,45.87 L440.10,45.87 L440.24,45.88 L440.38,45.89 L440.52,45.89 L440.66,45.90 L440.80,45.90 L440.94,45.91 L441.08,45.92 L441.22,45.92 L441.36,45.93 L441.50,45.94 L441.64,45.94 L441.79,45.95 L441.93,45.96 L442.07,45.96 L442.21,45.97 L442.35,45.98 L442.49,45.99 L442.63,45.99 L442.77,46.00 L442.91,46.01 L443.05,46.02 L443.19,46.02 L443.33,46.03 L443.47,46.04 L443.61,46.05 L443.75,46.05 L443.89,46.06 L444.03,46.07 L444.17,46.08 L444.31,46.09 L444.45,46.10 L444.59,46.10 L444.73,46.11 L444.87,46.12 L445.01,46.13 L445.15,46.14 L445.29,46.15 L445.43,46.16 L445.58,46.17 L445.72,46.18 L445.86,46.19 L446.00,46.20 L446.14,46.21 L446.28,46.22 L446.42,46.23 L446.56,46.24 L446.70,46.25 L446.84,46.26 L446.98,46.27 L447.12,46.28 L447.26,46.29 L447.40,46.30 L447.54,46.31 L447.68,46.32 L447.82,46.34 L447.96,46.35 L448.10,46.36 L448.24,46.37 L448.38,46.38 L448.52,46.40 L448.66,46.41 L448.80,46.42 L448.94,46.43 L449.08,46.45 L449.22,46.46 L449.37,46.47 L449.51,46.49 L449.65,46.50 L449.79,46.51 L449.93,46.53 L450.07,46.54 L450.21,46.56 L450.35,46.57 L450.49,46.59 L450.63,46.60 L450.77,46.62 L450.91,46.64 L451.05,46.65 L451.19,46.67 L451.33,46.68 L451.47,46.70 L451.61,46.72 L451.75,46.74 L451.89,46.75 L452.03,46.77 L452.17,46.79 L452.31,46.81 L452.45,46.83 L452.59,46.85 L452.73,46.86 L452.87,46.88 L453.01,46.90 L453.16,46.92 L453.30,46.95 L453.44,46.97 L453.58,46.99 L453.72,47.01 L453.86,47.03 L454.00,47.05 L454.14,47.08 L454.28,47.10 L454.42,47.12 L454.56,47.15 L454.70,47.17 L454.84,47.20 L454.98,47.22 L455.12,47.25 L455.26,47.27 L455.40,47.30 L455.54,47.33 L455.68,47.36 L455.82,47.38 L455.96,47.41 L456.10,47.44 L456.24,47.47 L456.38,47.50 L456.52,47.53 L456.66,47.57 L456.80,47.60 L456.94,47.63 L457.09,47.67 L457.23,47.70 L457.37,47.73 L457.51,47.77 L457.65,47.81 L457.79,47.84 L457.93,47.88 L458.07,47.92 L458.21,47.96 L458.35,48.00 L458.49,48.04 L458.63,48.08 L458.77,48.13 L458.91,48.17 L459.05,48.21 L459.19,48.26 L459.33,48.31 L459.47,48.36 L459.61,48.40 L459.75,48.45 L459.89,48.51 L460.03,48.56 L460.17,48.61 L460.31,48.67 L460.45,48.72 L460.59,48.78 L460.73,48.84 L460.88,48.90 L461.02,48.96 L461.16,49.03 L461.30,49.09 L461.44,49.16 L461.58,49.22 L461.72,49.29 L461.86,49.37 L462.00,49.44 L462.14,49.52 L462.28,49.59 L462.42,49.67 L462.56,49.75 L462.70,49.84 L462.84,49.93 L462.98,50.01 L463.12,50.11 L463.26,50.20 L463.40,50.30 L463.54,50.39 L463.68,50.50 L463.82,50.60 L463.96,50.71 L464.10,50.82 L464.24,50.94 L464.38,51.06 L464.52,51.18 L464.67,51.30 L464.81,51.43 L464.95,51.57 L465.09,51.71 L465.23,51.85 L465.37,52.00 L465.51,52.15 L465.65,52.31 L465.79,52.47 L465.93,52.64 L466.07,52.81 L466.21,52.99 L466.35,53.18 L466.49,53.38 L466.63,53.58 L466.77,53.79 L466.91,54.00 L467.05,54.23 L467.19,54.46 L467.33,54.70 L467.47,54.96 L467.61,55.22 L467.75,55.49 L467.89,55.78 L468.03,56.07 L468.17,56.38 L468.31,56.70 L468.46,57.04 L468.60,57.39 L468.74,57.76 L468.88,58.14 L469.02,58.54 L469.16,58.96 L469.30,59.40 L469.44,59.86 L469.58,60.34 L469.72,60.85 L469.86,61.38 L470.00,61.94 L470.14,62.52 L470.28,63.14 L470.42,63.79 L470.56,64.48 L470.70,65.20 L470.84,65.96 L470.98,66.77 L471.12,67.62 L471.26,68.52 L471.40,69.47 L471.54,70.48 L471.68,71.55 L471.82,72.69 L471.96,73.90 L472.10,75.18 L472.24,76.54 L472.39,77.99 L472.53,79.53 L472.67,81.18 L472.81,82.93 L472.95,84.80 L473.09,86.79 L473.23,88.91 L473.37,91.17 L473.51,93.58 L473.65,96.15 L473.79,98.89 L473.93,101.80 L474.07,104.89 L474.21,108.17 L474.35,111.64 L474.49,115.30 L474.63,119.15 L474.77,123.18 L474.91,127.37 L475.05,131.70 L475.19,136.15 L475.33,140.68 L475.47,145.23 L475.61,149.74 L475.75,154.15 L475.89,158.37 L476.03,162.31 L476.18,165.88 L476.32,168.99 L476.46,171.56 L476.60,173.51 L476.74,174.79 L476.88,175.36 L477.02,175.21 L477.16,174.37 L477.30,172.87 L477.44,170.78 L477.58,168.18 L477.72,165.15 L477.86,161.79 L478.00,158.20 L478.14,154.46 L478.28,150.65 L478.42,146.85 L478.56,143.11 L478.70,139.48 L478.84,136.00 L478.98,132.70 L479.12,129.61 L479.26,126.73 L479.40,124.09 L479.54,121.67 L479.68,119.49 L479.82,117.55 L479.97,115.85 L480.11,114.37 L480.25,113.13 L480.39,112.11 L480.53,111.31 L480.67,110.74 L480.81,110.38 L480.95,110.24 L481.09,110.32 L481.23,110.62 L481.37,111.13 L481.51,111.87 L481.65,112.82 L481.79,114.01 L481.93,115.42 L482.07,117.06 L482.21,118.94 L482.35,121.05 L482.49,123.40 L482.63,125.98 L482.77,128.80 L482.91,131.83 L483.05,135.08 L483.19,138.51 L483.33,142.10 L483.47,145.81 L483.61,149.61 L483.76,153.42 L483.90,157.19 L484.04,160.84 L484.18,164.27 L484.32,167.40 L484.46,170.14 L484.60,172.38 L484.74,174.05 L484.88,175.09 L485.02,175.44 L485.16,175.07 L485.30,173.99 L485.44,172.23 L485.58,169.83 L485.72,166.87 L485.86,163.42 L486.00,159.57 L486.14,155.42 L486.28,151.06 L486.42,146.57 L486.56,142.03 L486.70,137.49 L486.84,133.02 L486.98,128.65 L487.12,124.42 L487.26,120.35 L487.40,116.45 L487.54,112.74 L487.69,109.22 L487.83,105.88 L487.97,102.74 L488.11,99.78 L488.25,97.00 L488.39,94.38 L488.53,91.93 L488.67,89.63 L488.81,87.47 L488.95,85.44 L489.09,83.54 L489.23,81.76 L489.37,80.09 L489.51,78.52 L489.65,77.05 L489.79,75.66 L489.93,74.36 L490.07,73.14 L490.21,71.98 L490.35,70.90 L490.49,69.87 L490.63,68.90 L490.77,67.99 L490.91,67.13 L491.05,66.31 L491.19,65.54 L491.33,64.81 L491.48,64.11 L491.62,63.45 L491.76,62.83 L491.90,62.23 L492.04,61.67 L492.18,61.13 L492.32,60.62 L492.46,60.14 L492.60,59.67 L492.74,59.23 L492.88,58.81 L493.02,58.40 L493.16,58.02 L493.30,57.65 L493.44,57.29 L493.58,56.96 L493.72,56.63 L493.86,56.32 L494.00,56.03 L494.14,55.74 L494.28,55.47 L494.42,55.20 L494.56,54.95 L494.70,54.71 L494.84,54.47 L494.98,54.25 L495.12,54.03 L495.27,53.82 L495.41,53.62 L495.55,53.43 L495.69,53.24 L495.83,53.06 L495.97,52.88 L496.11,52.72 L496.25,52.55 L496.39,52.40 L496.53,52.24 L496.67,52.10 L496.81,51.95 L496.95,51.82 L497.09,51.68 L497.23,51.56 L497.37,51.43 L497.51,51.31 L497.65,51.19 L497.79,51.08 L497.93,50.97 L498.07,50.86 L498.21,50.76 L498.35,50.66 L498.49,50.56 L498.63,50.46 L498.77,50.37 L498.91,50.28 L499.06,50.20 L499.20,50.11 L499.34,50.03 L499.48,49.95 L499.62,49.87 L499.76,49.80 L499.90,49.72 L500.04,49.65 L500.18,49.58 L500.32,49.51 L500.46,49.45 L500.60,49.38 L500.74,49.32 L500.88,49.26 L501.02,49.20 L501.16,49.14 L501.30,49.08 L501.44,49.03 L501.58,48.97 L501.72,48.92 L501.86,48.87 L502.00,48.82 L502.14,48.77 L502.28,48.72 L502.42,48.68 L502.56,48.63 L502.70,48.59 L502.84,48.54 L502.99,48.50 L503.13,48.46 L503.27,48.42 L503.41,48.38 L503.55,48.34 L503.69,48.30 L503.83,48.27 L503.97,48.23 L504.11,48.20 L504.25,48.16 L504.39,48.13 L504.53,48.10 L504.67,48.06 L504.81,48.03 L504.95,48.00 L505.09,47.97 L505.23,47.94 L505.37,47.91 L505.51,47.89 L505.65,47.86 L505.79,47.83 L505.93,47.81 L506.07,47.78 L506.21,47.75 L506.35,47.73 L506.49,47.71 L506.63,47.68 L506.78,47.66 L506.92,47.64 L507.06,47.61 L507.20,47.59 L507.34,47.57 L507.48,47.55 L507.62,47.53 L507.76,47.51 L507.90,47.49 L508.04,47.47 L508.18,47.46 L508.32,47.44 L508.46,47.42 L508.60,47.40 L508.74,47.39 L508.88,47.37 L509.02,47.35 L509.16,47.34 L509.30,47.32 L509.44,47.31 L509.58,47.29 L509.72,47.28 L509.86,47.26 L510.00,47.25 L510.14,47.24 L510.28,47.22 L510.42,47.21 L510.57,47.20 L510.71,47.18 L510.85,47.17 L510.99,47.16 L511.13,47.15 L511.27,47.14 L511.41,47.13 L511.55,47.12 L511.69,47.11 L511.83,47.10 L511.97,47.09 L512.11,47.08 L512.25,47.07 L512.39,47.06 L512.53,47.05 L512.67,47.04 L512.81,47.03 L512.95,47.02 L513.09,47.02 L513.23,47.01 L513.37,47.00 L513.51,46.99 L513.65,46.99 L513.79,46.98 L513.93,46.97 L514.07,46.97 L514.21,46.96 L514.36,46.96 L514.50,46.95 L514.64,46.94 L514.78,46.94 L514.92,46.93 L515.06,46.93 L515.20,46.92 L515.34,46.92 L515.48,46.92 L515.62,46.91 L515.76,46.91 L515.90,46.90 L516.04,46.90 L516.18,46.90 L516.32,46.89 L516.46,46.89 L516.60,46.89 L516.74,46.89 L516.88,46.88 L517.02,46.88 L517.16,46.88 L517.30,46.88 L517.44,46.87 L517.58,46.87 L517.72,46.87 L517.86,46.87 L518.00,46.87 L518.14,46.87 L518.29,46.87 L518.43,46.87 L518.57,46.87 L518.71,46.87 L518.85,46.87 L518.99,46.87 L519.13,46.87 L519.27,46.87 L519.41,46.87 L519.55,46.87 L519.69,46.87 L519.83,46.87 L519.97,46.88 L520.11,46.88 L520.25,46.88 L520.39,46.88 L520.53,46.88 L520.67,46.89 L520.81,46.89 L520.95,46.89 L521.09,46.89 L521.23,46.90 L521.37,46.90 L521.51,46.90 L521.65,46.91 L521.79,46.91 L521.93,46.92 L522.08,46.92 L522.22,46.93 L522.36,46.93 L522.50,46.93 L522.64,46.94 L522.78,46.95 L522.92,46.95 L523.06,46.96 L523.20,46.96 L523.34,46.97 L523.48,46.97 L523.62,46.98 L523.76,46.99 L523.90,47.00 L524.04,47.00 L524.18,47.01 L524.32,47.02 L524.46,47.03 L524.60,47.03 L524.74,47.04 L524.88,47.05 L525.02,47.06 L525.16,47.07 L525.30,47.08 L525.44,47.09 L525.58,47.10 L525.72,47.11 L525.87,47.12 L526.01,47.13 L526.15,47.14 L526.29,47.15 L526.43,47.16 L526.57,47.17 L526.71,47.19 L526.85,47.20 L526.99,47.21 L527.13,47.22 L527.27,47.24 L527.41,47.25 L527.55,47.26 L527.69,47.28 L527.83,47.29 L527.97,47.31 L528.11,47.32 L528.25,47.34 L528.39,47.35 L528.53,47.37 L528.67,47.39 L528.81,47.40 L528.95,47.42 L529.09,47.44 L529.23,47.46 L529.37,47.48 L529.51,47.50 L529.66,47.51 L529.80,47.53 L529.94,47.56 L530.08,47.58 L530.22,47.60 L530.36,47.62 L530.50,47.64 L530.64,47.66 L530.78,47.69 L530.92,47.71 L531.06,47.73 L531.20,47.76 L531.34,47.78 L531.48,47.81 L531.62,47.84 L531.76,47.86 L531.90,47.89 L532.04,47.92 L532.18,47.95 L532.32,47.98 L532.46,48.01 L532.60,48.04 L532.74,48.07 L532.88,48.10 L533.02,48.13 L533.16,48.17 L533.30,48.20 L533.44,48.24 L533.59,48.27 L533.73,48.31 L533.87,48.35 L534.01,48.39 L534.15,48.43 L534.29,48.47 L534.43,48.51 L534.57,48.55 L534.71,48.59 L534.85,48.64 L534.99,48.68 L535.13,48.73 L535.27,48.78 L535.41,48.83 L535.55,48.88 L535.69,48.93 L535.83,48.98 L535.97,49.04 L536.11,49.09 L536.25,49.15 L536.39,49.21 L536.53,49.27 L536.67,49.33 L536.81,49.39 L536.95,49.46 L537.09,49.52 L537.23,49.59 L537.38,49.66 L537.52,49.73 L537.66,49.81 L537.80,49.88 L537.94,49.96 L538.08,50.04 L538.22,50.13 L538.36,50.21 L538.50,50.30 L538.64,50.39 L538.78,50.48 L538.92,50.58 L539.06,50.67 L539.20,50.77 L539.34,50.88 L539.48,50.99 L539.62,51.10 L539.76,51.21 L539.90,51.33 L540.04,51.45 L540.18,51.58 L540.32,51.71 L540.46,51.84 L540.60,51.98 L540.74,52.12 L540.88,52.27 L541.02,52.42 L541.17,52.58 L541.31,52.74 L541.45,52.91 L541.59,53.09 L541.73,53.27 L541.87,53.46 L542.01,53.65 L542.15,53.85 L542.29,54.07 L542.43,54.28 L542.57,54.51 L542.71,54.75 L542.85,54.99 L542.99,55.25 L543.13,55.51 L543.27,55.79 L543.41,56.07 L543.55,56.37 L543.69,56.69 L543.83,57.01 L543.97,57.35 L544.11,57.71 L544.25,58.08 L544.39,58.47 L544.53,58.88 L544.67,59.30 L544.81,59.75 L544.96,60.22 L545.10,60.71 L545.24,61.22 L545.38,61.76 L545.52,62.33 L545.66,62.93 L545.80,63.56 L545.94,64.22 L546.08,64.92 L546.22,65.66 L546.36,66.44 L546.50,67.27 L546.64,68.14 L546.78,69.06 L546.92,70.04 L547.06,71.07 L547.20,72.17 L547.34,73.33 L547.48,74.57 L547.62,75.89 L547.76,77.29 L547.90,78.78 L548.04,80.36 L548.18,82.05 L548.32,83.85 L548.46,85.77 L548.60,87.82 L548.74,90.00 L548.89,92.33 L549.03,94.81 L549.17,97.45 L549.31,100.26 L549.45,103.25 L549.59,106.42 L549.73,109.79 L549.87,113.34 L550.01,117.08 L550.15,121.01 L550.29,125.11 L550.43,129.37 L550.57,133.76 L550.71,138.25 L550.85,142.79 L550.99,147.33 L551.13,151.80 L551.27,156.13 L551.41,160.23 L551.55,164.02 L551.69,167.40 L551.83,170.27 L551.97,172.57 L552.11,174.22 L552.25,175.18 L552.39,175.43 L552.53,174.96 L552.68,173.82 L552.82,172.04 L552.96,169.71 L553.10,166.91 L553.24,163.72 L553.38,160.24 L553.52,156.57 L553.66,152.79 L553.80,148.97 L553.94,145.19 L554.08,141.49 L554.22,137.92 L554.36,134.52 L554.50,131.31 L554.64,128.31 L554.78,125.54 L554.92,122.99 L555.06,120.68 L555.20,118.61 L555.34,116.77 L555.48,115.17 L555.62,113.79 L555.76,112.65 L555.90,111.73 L556.04,111.03 L556.18,110.55 L556.32,110.29 L556.47,110.25 L556.61,110.42 L556.75,110.82 L556.89,111.43 L557.03,112.26 L557.17,113.32 L557.31,114.60 L557.45,116.11 L557.59,117.86 L557.73,119.84 L557.87,122.06 L558.01,124.51 L558.15,127.20 L558.29,130.11 L558.43,133.24 L558.57,136.57 L558.71,140.07 L558.85,143.72 L558.99,147.48 L559.13,151.29 L559.27,155.09 L559.41,158.81 L559.55,162.37 L559.69,165.68 L559.83,168.64 L559.97,171.16 L560.11,173.16 L560.26,174.55 L560.40,175.28 L560.54,175.31 L560.68,174.62 L560.82,173.23 L560.96,171.18 L561.10,168.51 L561.24,165.32 L561.38,161.68 L561.52,157.68 L561.66,153.43 L561.80,149.00 L561.94,144.47 L562.08,139.92 L562.22,135.41 L562.36,130.98 L562.50,126.66 L562.64,122.50 L562.78,118.50 L562.92,114.68 L563.06,111.05 L563.20,107.62 L563.34,104.37 L563.48,101.31 L563.62,98.42 L563.76,95.72 L563.90,93.17 L564.04,90.79 L564.19,88.55 L564.33,86.45 L564.47,84.48 L564.61,82.63 L564.75,80.90 L564.89,79.27 L565.03,77.74 L565.17,76.31 L565.31,74.96 L565.45,73.69 L565.59,72.50 L565.73,71.37 L565.87,70.31 L566.01,69.31 L566.15,68.37 L566.29,67.47 L566.43,66.63 L566.57,65.83 L566.71,65.08 L566.85,64.36 L566.99,63.68 L567.13,63.04 L567.27,62.42 L567.41,61.84 L567.55,61.29 L567.69,60.76 L567.83,60.26 L567.98,59.78 L568.12,59.32 L568.26,58.89 L568.40,58.47 L568.54,58.07 L568.68,57.69 L568.82,57.33 L568.96,56.98 L569.10,56.65 L569.24,56.33 L569.38,56.02 L569.52,55.73 L569.66,55.45 L569.80,55.17 L569.94,54.91 L570.08,54.66 L570.22,54.42 L570.36,54.19 L570.50,53.97 L570.64,53.75 L570.78,53.54 L570.92,53.34 L571.06,53.15 L571.20,52.96 L571.34,52.78 L571.48,52.61 L571.62,52.44 L571.77,52.28 L571.91,52.12 L572.05,51.97 L572.19,51.82 L572.33,51.68 L572.47,51.55 L572.61,51.41 L572.75,51.28 L572.89,51.16 L573.03,51.04 L573.17,50.92 L573.31,50.80 L573.45,50.69 L573.59,50.58 L573.73,50.48 L573.87,50.38 L574.01,50.28 L574.15,50.18 L574.29,50.09 L574.43,50.00 L574.57,49.91 L574.71,49.82 L574.85,49.74 L574.99,49.66 L575.13,49.58 L575.27,49.50 L575.41,49.43 L575.56,49.35 L575.70,49.28 L575.84,49.21 L575.98,49.15 L576.12,49.08 L576.26,49.01 L576.40,48.95 L576.54,48.89 L576.68,48.83 L576.82,48.77 L576.96,48.71 L577.10,48.66 L577.24,48.60 L577.38,48.55 L577.52,48.50 L577.66,48.45 L577.80,48.40 L577.94,48.35 L578.08,48.30 L578.22,48.25 L578.36,48.21 L578.50,48.16 L578.64,48.12 L578.78,48.08 L578.92,48.03 L579.06,47.99 L579.20,47.95 L579.34,47.91 L579.49,47.88 L579.63,47.84 L579.77,47.80 L579.91,47.76 L580.05,47.73 L580.19,47.69 L580.33,47.66 L580.47,47.63 L580.61,47.59 L580.75,47.56 L580.89,47.53 L581.03,47.50 L581.17,47.47 L581.31,47.44 L581.45,47.41 L581.59,47.38 L581.73,47.35 L581.87,47.32 L582.01,47.30 L582.15,47.27 L582.29,47.24 L582.43,47.22 L582.57,47.19 L582.71,47.17 L582.85,47.14 L582.99,47.12 L583.13,47.10 L583.28,47.07 L583.42,47.05 L583.56,47.03 L583.70,47.01 L583.84,46.98 L583.98,46.96 L584.12,46.94 L584.26,46.92 L584.40,46.90 L584.54,46.88 L584.68,46.86 L584.82,46.84 L584.96,46.82 L585.10,46.80 L585.24,46.79 L585.38,46.77 L585.52,46.75 L585.66,46.73 L585.80,46.71 L585.94,46.70 L586.08,46.68 L586.22,46.66 L586.36,46.65 L586.50,46.63 L586.64,46.62 L586.78,46.60 L586.92,46.59 L587.07,46.57 L587.21,46.56 L587.35,46.54 L587.49,46.53 L587.63,46.51 L587.77,46.50 L587.91,46.48 L588.05,46.47 L588.19,46.46 L588.33,46.44 L588.47,46.43 L588.61,46.42 L588.75,46.41 L588.89,46.39 L589.03,46.38 L589.17,46.37 L589.31,46.36 L589.45,46.35 L589.59,46.33 L589.73,46.32 L589.87,46.31 L590.01,46.30 L590.15,46.29 L590.29,46.28 L590.43,46.27 L590.57,46.26 L590.71,46.25 L590.86,46.23 L591.00,46.22 L591.14,46.21 L591.28,46.20 L591.42,46.19 L591.56,46.19 L591.70,46.18 L591.84,46.17 L591.98,46.16 L592.12,46.15 L592.26,46.14 L592.40,46.13 L592.54,46.12 L592.68,46.11 L592.82,46.10 L592.96,46.09 L593.10,46.09 L593.24,46.08 L593.38,46.07 L593.52,46.06 L593.66,46.05 L593.80,46.04 L593.94,46.04 L594.08,46.03 L594.22,46.02 L594.36,46.01 L594.50,46.01 L594.64,46.00 L594.79,45.99 L594.93,45.98 L595.07,45.98 L595.21,45.97 L595.35,45.96 L595.49,45.96 L595.63,45.95 L595.77,45.94 L595.91,45.94 L596.05,45.93 L596.19,45.92 L596.33,45.92 L596.47,45.91 L596.61,45.90 L596.75,45.90 L596.89,45.89 L597.03,45.88 L597.17,45.88 L597.31,45.87 L597.45,45.87 L597.59,45.86 L597.73,45.85 L597.87,45.85 L598.01,45.84 L598.15,45.84 L598.29,45.83 L598.43,45.83 L598.58,45.82 L598.72,45.82 L598.86,45.81 L599.00,45.80 L599.14,45.80 L599.28,45.79 L599.42,45.79 L599.56,45.78 L599.70,45.78 L599.84,45.77 L599.98,45.77 L600.12,45.76 L600.26,45.76 L600.40,45.75" fill="none" stroke="#ff1010" stroke-width="1.8" stroke-linejoin="round" />
<path d="M432.10,44.98 L433.09,45.65 L434.08,44.71 L435.07,45.02 L436.06,45.67 L437.05,46.35 L438.04,45.89 L439.03,49.74 L440.02,48.67 L441.01,45.66 L442.00,46.75 L442.99,42.59 L443.98,46.27 L444.97,45.17 L445.96,44.07 L446.95,45.20 L447.94,46.31 L448.93,46.61 L449.92,46.74 L450.91,47.70 L451.90,48.40 L452.89,46.06 L453.88,50.91 L454.87,46.63 L455.86,50.28 L456.85,48.41 L457.84,47.65 L458.83,48.24 L459.82,47.95 L460.81,48.62 L461.80,49.61 L462.79,51.56 L463.78,50.80 L464.77,49.09 L465.76,48.38 L466.75,53.90 L467.74,57.52 L468.73,56.00 L469.72,61.40 L470.71,65.67 L471.65,71.39 L471.70,71.83 L471.79,72.66 L471.93,74.00 L472.07,75.43 L472.21,76.94 L472.35,78.55 L472.49,80.26 L472.63,82.07 L472.69,82.85 L472.77,83.99 L472.91,86.04 L473.05,88.21 L473.19,90.51 L473.33,92.94 L473.47,95.51 L473.61,98.23 L473.68,99.56 L473.75,101.09 L473.89,104.09 L474.03,107.24 L474.18,110.53 L474.32,113.94 L474.46,117.48 L474.60,121.13 L474.67,123.11 L474.74,124.88 L474.88,128.71 L475.02,132.61 L475.16,136.55 L475.30,140.52 L475.44,144.48 L475.58,148.58 L475.66,151.21 L475.72,153.02 L475.86,157.29 L476.00,161.31 L476.14,164.99 L476.28,168.23 L476.42,170.94 L476.56,173.06 L476.65,174.08 L476.70,174.52 L476.84,175.27 L476.98,175.32 L477.12,174.66 L477.26,173.33 L477.40,171.40 L477.54,168.92 L477.64,166.91 L477.68,166.01 L477.82,162.73 L477.96,159.20 L478.10,155.49 L478.24,151.70 L478.38,147.89 L478.52,144.55 L478.63,142.10 L478.66,141.35 L478.80,138.27 L478.94,135.30 L479.08,132.49 L479.22,129.83 L479.36,127.35 L479.50,125.06 L479.62,123.31 L479.64,122.96 L479.79,121.06 L479.93,119.36 L480.07,117.88 L480.21,116.60 L480.35,115.54 L480.49,114.70 L480.61,114.13 L480.63,114.07 L480.77,113.65 L480.91,113.45 L481.05,113.47 L481.19,113.70 L481.33,114.15 L481.47,114.81 L481.60,115.62 L481.61,115.68 L481.75,116.77 L481.89,118.08 L482.03,119.59 L482.17,121.32 L482.31,123.25 L482.45,125.38 L482.59,127.70 L482.73,130.21 L482.87,132.89 L483.01,135.72 L483.15,138.71 L483.29,141.81 L483.43,145.02 L483.57,148.44 L483.58,148.67 L483.71,152.26 L483.85,156.04 L483.99,159.73 L484.13,163.24 L484.27,166.47 L484.41,169.33 L484.55,171.74 L484.57,171.99 L484.69,173.60 L484.83,174.84 L484.97,175.40 L485.11,175.26 L485.25,174.41 L485.40,172.86 L485.54,170.66 L485.56,170.21 L485.68,167.87 L485.82,164.57 L485.96,160.84 L486.10,156.78 L486.24,152.48 L486.38,148.03 L486.52,144.00 L486.55,143.07 L486.66,140.03 L486.80,136.07 L486.94,132.14 L487.08,128.25 L487.22,124.43 L487.36,120.70 L487.50,117.07 L487.54,116.02 L487.64,113.55 L487.78,110.15 L487.92,106.89 L488.06,103.76 L488.20,100.78 L488.34,97.95 L488.48,95.25 L488.53,94.34 L488.62,92.70 L488.76,90.29 L488.90,88.01 L489.04,85.86 L489.18,83.84 L489.32,81.93 L489.46,80.13 L489.52,79.42 L489.60,78.44 L489.74,76.85 L489.88,75.35 L490.02,73.94 L490.16,72.61 L490.30,71.35 L490.51,69.50 L491.50,63.76 L492.49,58.94 L493.48,56.75 L494.47,55.24 L495.46,50.95 L496.45,52.27 L497.44,51.71 L498.43,50.80 L499.42,50.05 L500.41,48.75 L501.40,48.34 L502.39,48.81 L503.38,50.41 L504.37,51.20 L505.36,47.73 L506.35,47.30 L507.34,47.43 L508.33,46.26 L509.32,47.20 L510.31,47.81 L511.30,46.50 L512.29,47.27 L513.28,47.16 L514.27,48.43 L515.26,46.43 L516.25,43.18 L517.24,49.67 L518.23,44.82 L519.22,49.77 L520.21,46.90 L521.20,46.43 L522.19,47.29 L523.18,47.14 L524.17,44.19 L525.16,46.88 L526.15,47.79 L527.14,47.05 L528.13,47.41 L529.12,47.84 L530.11,50.45 L531.10,47.94 L532.09,48.69 L533.08,48.68 L534.07,51.09 L535.06,49.43 L536.05,48.96 L537.04,49.21 L538.03,46.71 L539.02,51.20 L540.01,51.57 L541.00,52.33 L541.99,53.29 L542.98,55.49 L543.97,57.80 L544.96,59.87 L545.95,63.93 L546.94,70.08 L547.11,71.52 L547.25,72.78 L547.39,74.13 L547.53,75.55 L547.67,77.06 L547.81,78.67 L547.93,80.17 L547.95,80.37 L548.09,82.18 L548.23,84.11 L548.37,86.15 L548.51,88.32 L548.65,90.61 L548.79,93.04 L548.92,95.46 L548.93,95.61 L549.07,98.33 L549.21,101.18 L549.35,104.18 L549.49,107.33 L549.63,110.61 L549.77,114.02 L549.91,117.56 L550.05,121.21 L550.19,124.95 L550.33,128.78 L550.47,132.67 L550.61,136.61 L550.75,140.58 L550.89,144.54 L550.90,144.77 L551.03,148.65 L551.17,153.08 L551.31,157.35 L551.45,161.37 L551.59,165.05 L551.73,168.28 L551.87,171.00 L551.89,171.28 L552.01,173.11 L552.15,174.57 L552.29,175.32 L552.43,175.37 L552.57,174.71 L552.72,173.38 L552.86,171.44 L552.88,171.04 L553.00,168.97 L553.14,166.05 L553.28,162.77 L553.42,159.23 L553.56,155.53 L553.70,151.73 L553.84,147.92 L553.87,147.07 L553.98,144.57 L554.12,141.38 L554.26,138.29 L554.40,135.33 L554.54,132.51 L554.68,129.85 L554.82,127.37 L554.86,126.68 L554.96,125.07 L555.10,122.97 L555.24,121.07 L555.38,119.37 L555.52,117.89 L555.66,116.61 L555.80,115.55 L555.85,115.23 L555.94,114.70 L556.08,114.07 L556.22,113.65 L556.36,113.45 L556.50,113.47 L556.64,113.70 L556.78,114.14 L556.84,114.39 L556.92,114.80 L557.06,115.67 L557.20,116.76 L557.34,118.07 L557.48,119.58 L557.62,121.30 L557.76,123.23 L557.83,124.21 L557.90,125.36 L558.04,127.68 L558.18,130.19 L558.33,132.87 L558.47,135.70 L558.61,138.68 L558.75,141.79 L558.82,143.47 L558.89,144.99 L559.03,148.41 L559.17,152.22 L559.31,156.01 L559.45,159.69 L559.59,163.20 L559.73,166.43 L559.81,168.16 L559.87,169.29 L560.01,171.70 L560.15,173.55 L560.29,174.79 L560.43,175.35 L560.57,175.21 L560.71,174.36 L560.80,173.43 L560.85,172.81 L560.99,170.60 L561.13,167.81 L561.27,164.51 L561.41,160.78 L561.55,156.72 L561.69,152.42 L561.79,149.29 L561.83,147.97 L561.97,143.94 L562.11,139.97 L562.25,136.01 L562.39,132.07 L562.53,128.18 L562.67,124.36 L562.78,121.50 L562.81,120.63 L562.95,116.99 L563.09,113.47 L563.23,110.07 L563.37,106.80 L563.51,103.67 L563.65,100.69 L563.77,98.34 L563.79,97.85 L563.94,95.15 L564.08,92.60 L564.22,90.18 L564.36,87.90 L564.50,85.75 L564.64,83.72 L564.76,82.03 L564.78,81.81 L564.92,80.01 L565.06,78.32 L565.20,76.73 L565.34,75.22 L565.48,73.81 L565.62,72.48 L565.75,71.29 L565.76,71.22 L566.74,64.86 L567.73,58.21 L568.72,55.19 L569.71,55.10 L570.70,54.04 L571.69,52.01 L572.68,51.72 L573.67,51.20 L574.66,52.33 L575.65,49.15 L576.64,48.51 L577.63,49.67 L578.62,47.26 L579.61,47.70 L580.60,47.00 L581.59,47.88 L582.58,47.87 L583.57,46.32 L584.56,46.15 L585.55,46.49 L586.54,46.52 L587.53,48.99 L588.52,46.77 L589.51,43.47 L590.50,42.77 L591.49,49.17 L592.48,45.94 L593.47,47.69 L594.46,44.25 L595.45,47.58 L596.44,46.50 L597.43,45.61 L598.42,46.42 L599.41,46.05 L600.40,45.82" fill="none" stroke="#111" stroke-width="0.85" stroke-linejoin="round" />
<rect x="418.2" y="0.5" width="265.40000000000003" height="185.0" fill="none" stroke="#2a2a2a" stroke-width="1"/>
<line x1="417.70" y1="185.70" x2="684.10" y2="185.70" stroke="#5a5a5a" stroke-width="1.5" />
<line x1="432.10" y1="185.50" x2="432.10" y2="189.00" stroke="#2a2a2a" stroke-width="1" />
<line x1="432.10" y1="0.50" x2="432.10" y2="4.00" stroke="#2a2a2a" stroke-width="1" />
<line x1="488.20" y1="185.50" x2="488.20" y2="189.00" stroke="#2a2a2a" stroke-width="1" />
<line x1="488.20" y1="0.50" x2="488.20" y2="4.00" stroke="#2a2a2a" stroke-width="1" />
<line x1="544.30" y1="185.50" x2="544.30" y2="189.00" stroke="#2a2a2a" stroke-width="1" />
<line x1="544.30" y1="0.50" x2="544.30" y2="4.00" stroke="#2a2a2a" stroke-width="1" />
<line x1="600.40" y1="185.50" x2="600.40" y2="189.00" stroke="#2a2a2a" stroke-width="1" />
<line x1="600.40" y1="0.50" x2="600.40" y2="4.00" stroke="#2a2a2a" stroke-width="1" />
<line x1="656.50" y1="185.50" x2="656.50" y2="189.00" stroke="#2a2a2a" stroke-width="1" />
<line x1="656.50" y1="0.50" x2="656.50" y2="4.00" stroke="#2a2a2a" stroke-width="1" />
<line x1="460.15" y1="185.50" x2="460.15" y2="187.50" stroke="#2a2a2a" stroke-width="1" />
<line x1="460.15" y1="0.50" x2="460.15" y2="3.50" stroke="#2a2a2a" stroke-width="1" />
<line x1="516.25" y1="185.50" x2="516.25" y2="187.50" stroke="#2a2a2a" stroke-width="1" />
<line x1="516.25" y1="0.50" x2="516.25" y2="3.50" stroke="#2a2a2a" stroke-width="1" />
<line x1="572.35" y1="185.50" x2="572.35" y2="187.50" stroke="#2a2a2a" stroke-width="1" />
<line x1="572.35" y1="0.50" x2="572.35" y2="3.50" stroke="#2a2a2a" stroke-width="1" />
<line x1="628.45" y1="185.50" x2="628.45" y2="187.50" stroke="#2a2a2a" stroke-width="1" />
<line x1="628.45" y1="0.50" x2="628.45" y2="3.50" stroke="#2a2a2a" stroke-width="1" />
<line x1="414.70" y1="172.90" x2="418.20" y2="172.90" stroke="#2a2a2a" stroke-width="1" />
<line x1="683.60" y1="172.90" x2="680.10" y2="172.90" stroke="#2a2a2a" stroke-width="1" />
<line x1="414.70" y1="147.32" x2="418.20" y2="147.32" stroke="#2a2a2a" stroke-width="1" />
<line x1="683.60" y1="147.32" x2="680.10" y2="147.32" stroke="#2a2a2a" stroke-width="1" />
<line x1="414.70" y1="121.74" x2="418.20" y2="121.74" stroke="#2a2a2a" stroke-width="1" />
<line x1="683.60" y1="121.74" x2="680.10" y2="121.74" stroke="#2a2a2a" stroke-width="1" />
<line x1="414.70" y1="96.16" x2="418.20" y2="96.16" stroke="#2a2a2a" stroke-width="1" />
<line x1="683.60" y1="96.16" x2="680.10" y2="96.16" stroke="#2a2a2a" stroke-width="1" />
<line x1="414.70" y1="70.58" x2="418.20" y2="70.58" stroke="#2a2a2a" stroke-width="1" />
<line x1="683.60" y1="70.58" x2="680.10" y2="70.58" stroke="#2a2a2a" stroke-width="1" />
<line x1="414.70" y1="45.00" x2="418.20" y2="45.00" stroke="#2a2a2a" stroke-width="1" />
<line x1="683.60" y1="45.00" x2="680.10" y2="45.00" stroke="#2a2a2a" stroke-width="1" />
<line x1="414.70" y1="19.42" x2="418.20" y2="19.42" stroke="#2a2a2a" stroke-width="1" />
<line x1="683.60" y1="19.42" x2="680.10" y2="19.42" stroke="#2a2a2a" stroke-width="1" />
<line x1="416.20" y1="160.11" x2="418.20" y2="160.11" stroke="#2a2a2a" stroke-width="1" />
<line x1="683.60" y1="160.11" x2="680.60" y2="160.11" stroke="#2a2a2a" stroke-width="1" />
<line x1="416.20" y1="134.53" x2="418.20" y2="134.53" stroke="#2a2a2a" stroke-width="1" />
<line x1="683.60" y1="134.53" x2="680.60" y2="134.53" stroke="#2a2a2a" stroke-width="1" />
<line x1="416.20" y1="108.95" x2="418.20" y2="108.95" stroke="#2a2a2a" stroke-width="1" />
<line x1="683.60" y1="108.95" x2="680.60" y2="108.95" stroke="#2a2a2a" stroke-width="1" />
<line x1="416.20" y1="83.37" x2="418.20" y2="83.37" stroke="#2a2a2a" stroke-width="1" />
<line x1="683.60" y1="83.37" x2="680.60" y2="83.37" stroke="#2a2a2a" stroke-width="1" />
<line x1="416.20" y1="57.79" x2="418.20" y2="57.79" stroke="#2a2a2a" stroke-width="1" />
<line x1="683.60" y1="57.79" x2="680.60" y2="57.79" stroke="#2a2a2a" stroke-width="1" />
<line x1="416.20" y1="32.21" x2="418.20" y2="32.21" stroke="#2a2a2a" stroke-width="1" />
<line x1="683.60" y1="32.21" x2="680.60" y2="32.21" stroke="#2a2a2a" stroke-width="1" />
<line x1="416.20" y1="6.63" x2="418.20" y2="6.63" stroke="#2a2a2a" stroke-width="1" />
<line x1="683.60" y1="6.63" x2="680.60" y2="6.63" stroke="#2a2a2a" stroke-width="1" />
<text x="432.10" y="201.00" font-size="11" text-anchor="middle" fill="#111" font-weight="normal" >2840</text>
<text x="488.20" y="201.00" font-size="11" text-anchor="middle" fill="#111" font-weight="normal" >2860</text>
<text x="544.30" y="201.00" font-size="11" text-anchor="middle" fill="#111" font-weight="normal" >2880</text>
<text x="600.40" y="201.00" font-size="11" text-anchor="middle" fill="#111" font-weight="normal" >2900</text>
<text x="656.50" y="201.00" font-size="11" text-anchor="middle" fill="#111" font-weight="normal" >2920</text>
<text x="412.30" y="177.19" font-size="11" text-anchor="end" fill="#111" font-weight="normal" >-1.0</text>
<text x="412.30" y="151.61" font-size="11" text-anchor="end" fill="#111" font-weight="normal" >-0.8</text>
<text x="412.30" y="126.03" font-size="11" text-anchor="end" fill="#111" font-weight="normal" >-0.6</text>
<text x="412.30" y="100.45" font-size="11" text-anchor="end" fill="#111" font-weight="normal" >-0.4</text>
<text x="412.30" y="74.87" font-size="11" text-anchor="end" fill="#111" font-weight="normal" >-0.2</text>
<text x="412.30" y="49.29" font-size="11" text-anchor="end" fill="#111" font-weight="normal" >0.0</text>
<text x="412.30" y="23.71" font-size="11" text-anchor="end" fill="#111" font-weight="normal" >0.2</text>
<text x="372.30" y="19.80" font-size="19.5" text-anchor="start" fill="#000" font-weight="bold" >b</text>
<text x="551.60" y="223.10" font-size="16.4" text-anchor="middle" fill="#000" font-weight="normal" ><tspan font-style="italic">F</tspan> (MHz)</text>
<text transform="translate(366.3,92.3) rotate(-90)" font-size="15" text-anchor="middle">Lock-in signal</text>
<text transform="translate(384.6,92.6) rotate(-90)" font-size="15" text-anchor="middle">(normalized)</text>
<rect x="469.7" y="8.7" width="193" height="33.5" fill="#fff" stroke="#a0a0a0" stroke-width="0.8"/>
<line x1="470.50" y1="18.40" x2="495.50" y2="18.40" stroke="#ff1010" stroke-width="1.7" />
<line x1="470.50" y1="32.50" x2="495.50" y2="32.50" stroke="#444" stroke-width="0.8" />
<text x="499.40" y="21.60" font-size="11" text-anchor="start" fill="#000" font-weight="normal" xml:space="preserve"><tspan font-style="italic">A</tspan>(<tspan font-size="7.5" dy="-4">15</tspan><tspan dy="4">N) = 3.1 MHz; </tspan><tspan font-style="italic">E</tspan> =  0.65 MHz</text>
<text x="499.40" y="35.60" font-size="11" text-anchor="start" fill="#000" font-weight="normal" ><tspan font-style="italic">B</tspan><tspan font-size="7.5" dy="2.5">0</tspan><tspan dy="-2.5"> = 10 G</tspan></text>
<rect x="571.3" y="87.8" width="77.6" height="11.7" fill="#007f00"/>
<rect x="571.3" y="105" width="11.9" height="9.7" fill="#0000a0"/>
<rect x="571.3" y="123.4" width="11.9" height="10.4" fill="#000"/>
<rect x="594.1" y="105" width="11.2" height="9.7" fill="#0000a0"/>
<rect x="594.1" y="123.4" width="11.2" height="10.4" fill="#000"/>
<rect x="616" y="105" width="11.5" height="9.7" fill="#0000a0"/>
<rect x="616" y="123.4" width="11.5" height="10.4" fill="#000"/>
<rect x="637.2" y="105" width="11.7" height="9.7" fill="#0000a0"/>
<rect x="637.2" y="123.4" width="11.7" height="10.4" fill="#000"/>
<line x1="571.30" y1="114.30" x2="648.90" y2="114.30" stroke="#8888e0" stroke-width="0.8" />
<line x1="571.30" y1="133.50" x2="648.90" y2="133.50" stroke="#000" stroke-width="0.8" />
<text x="655.30" y="96.80" font-size="7.1" text-anchor="start" fill="#1a8a1a" font-weight="normal" >Laser</text>
<text x="655.30" y="113.80" font-size="7.1" text-anchor="start" fill="#2020c0" font-weight="normal" >MW</text>
<text x="654.50" y="131.60" font-size="7.1" text-anchor="start" fill="#111" font-weight="normal" >Readout</text>
<path d="M79.30,276.50 L80.50,283.00 L81.65,287.20 L82.80,307.61 L83.95,330.57 L85.10,356.77 L86.25,372.55 L87.40,391.25 L89.00,380.00 L90.70,391.00 L92.00,391.00 L93.15,378.49 L94.30,358.01 L95.45,339.61 L96.60,317.48 L97.75,294.83 L98.90,284.34 L100.05,274.32 L101.10,290.20 L103.40,271.80 L104.50,276.00 L105.60,271.70 L107.00,282.00 L108.15,346.26 L109.30,362.81 L110.45,377.71 L112.00,390.00 L113.60,402.30 L115.00,396.00 L116.15,375.86 L117.30,363.22 L118.45,346.49 L119.60,329.00 L120.75,314.65 L121.90,301.90 L123.05,291.80 L124.20,282.82 L126.00,276.00 L127.20,283.00 L128.30,274.50 L129.50,283.00 L130.65,330.32 L131.80,343.50 L132.95,357.12 L134.10,370.77 L135.25,376.42 L136.40,383.67 L137.55,375.70 L138.70,372.40 L139.85,366.05 L141.00,356.09 L142.15,339.91 L143.30,330.43 L144.45,315.72 L145.60,302.31 L146.75,296.05 L147.90,293.29 L149.05,290.81 L150.20,298.57 L151.35,303.65 L152.50,315.30 L153.65,327.83 L154.80,337.80 L155.95,352.27 L157.10,356.96 L158.25,368.99 L159.40,368.38 L160.55,374.66 L161.70,368.50 L162.85,365.61 L164.00,357.05 L165.15,343.74 L166.30,331.55 L167.45,324.31 L168.60,310.27 L169.75,306.68 L171.20,294.00 L173.40,307.60 L174.90,288.00 L176.50,300.00 L177.65,332.30 L178.80,341.90 L179.95,350.61 L181.10,362.36 L182.00,372.00 L183.00,373.00 L184.00,366.00 L185.00,364.25 L188.76,344.68 L191.77,325.11 L194.03,313.06 L195.84,306.29 L197.80,301.77 L198.85,308.55 L200.05,329.62 L201.86,344.68 L203.06,349.19 L204.27,341.67 L205.77,350.70 L207.58,364.25 L209.09,344.68 L210.29,346.18 L211.80,337.15 L213.60,332.63 L215.11,314.57 L216.91,311.56 L219.32,310.05 L221.13,305.54 L222.93,313.06 L224.44,331.13 L226.40,331.13 L227.90,334.14 L228.96,341.67 L230.91,358.22 L231.97,359.73 L233.92,343.17 L235.43,320.59 L236.48,331.13 L237.39,341.67 L238.89,317.58 L240.70,296.51 L242.20,304.03 L244.01,325.11 L245.21,334.14 L246.42,349.19 L247.02,340.16 L248.22,352.20 L249.73,347.69 L251.51,334.14 L253.01,335.64 L254.52,344.68 L256.02,332.63 L257.53,331.13 L259.03,325.11 L260.84,321.34 L262.04,320.59 L263.85,311.56 L265.05,317.58 L266.26,313.06 L267.31,304.03 L268.06,325.11 L268.82,334.14 L269.87,328.12 L271.07,338.65 L272.58,340.16 L273.33,346.18 L274.39,355.21 L275.59,344.68 L276.80,334.14 L277.85,343.17 L279.35,332.63 L281.31,319.09 L282.36,326.61 L283.87,325.86 L285.38,327.36 L286.88,322.85 L288.39,335.64 L289.44,325.11 L290.64,326.61 L292.15,332.63 L293.65,335.64 L294.86,352.20 L295.91,340.16 L296.97,328.12 L298.17,331.13 L299.68,340.16 L301.18,334.14 L302.69,328.12 L303.89,335.64 L304.95,331.13 L306.45,331.88 L307.96,334.14 L308.80,331.50" fill="none" stroke="#000" stroke-width="1.1" stroke-linejoin="round" />
<path d="M79.58,262.58 L79.81,264.61 L80.04,266.88 L80.27,269.40 L80.50,272.15 L80.73,275.13 L80.96,278.31 L81.20,281.69 L81.43,285.25 L81.66,288.99 L81.89,292.87 L82.12,296.89 L82.35,301.04 L82.58,305.29 L82.81,309.64 L83.04,314.05 L83.28,318.52 L83.51,323.03 L83.74,327.56 L83.97,332.09 L84.20,336.61 L84.43,341.10 L84.66,345.54 L84.89,349.92 L85.12,354.22 L85.35,358.41 L85.59,362.50 L85.82,366.46 L86.05,370.27 L86.28,373.93 L86.51,377.42 L86.74,380.73 L86.97,383.85 L87.20,386.75 L87.43,389.45 L87.67,391.91 L87.90,394.15 L88.13,396.14 L88.36,397.88 L88.59,399.37 L88.82,400.61 L89.05,401.58 L89.28,402.29 L89.51,402.73 L89.74,402.90 L89.98,402.81 L90.21,402.45 L90.44,401.83 L90.67,400.95 L90.90,399.82 L91.13,398.44 L91.36,396.81 L91.59,394.95 L91.82,392.86 L92.06,390.55 L92.29,388.04 L92.52,385.32 L92.75,382.42 L92.98,379.34 L93.21,376.10 L93.44,372.71 L93.67,369.18 L93.90,365.53 L94.13,361.77 L94.37,357.92 L94.60,353.99 L94.83,350.00 L95.06,345.96 L95.29,341.89 L95.52,337.81 L95.75,333.72 L95.98,329.65 L96.21,325.61 L96.45,321.62 L96.68,317.69 L96.91,313.84 L97.14,310.07 L97.37,306.42 L97.60,302.88 L97.83,299.47 L98.06,296.21 L98.29,293.10 L98.52,290.16 L98.76,287.40 L98.99,284.83 L99.22,282.45 L99.45,280.28 L99.68,278.33 L99.91,276.59 L100.14,275.08 L100.37,273.80 L100.60,272.75 L100.84,271.94 L101.07,271.38 L101.30,271.05 L101.53,270.96 L101.76,271.12 L101.99,271.51 L102.22,272.14 L102.45,273.01 L102.68,274.10 L102.91,275.42 L103.15,276.96 L103.38,278.71 L103.61,280.66 L103.84,282.81 L104.07,285.15 L104.30,287.66 L104.53,290.35 L104.76,293.18 L104.99,296.17 L105.23,299.28 L105.46,302.52 L105.69,305.86 L105.92,309.30 L106.15,312.82 L106.38,316.41 L106.61,320.05 L106.84,323.73 L107.07,327.43 L107.30,331.15 L107.54,334.86 L107.77,338.56 L108.00,342.22 L108.23,345.84 L108.46,349.39 L108.69,352.88 L108.92,356.28 L109.15,359.58 L109.38,362.77 L109.62,365.84 L109.85,368.77 L110.08,371.57 L110.31,374.20 L110.54,376.68 L110.77,378.98 L111.00,381.10 L111.23,383.03 L111.46,384.77 L111.69,386.30 L111.93,387.63 L112.16,388.75 L112.39,389.66 L112.62,390.35 L112.85,390.83 L113.08,391.08 L113.31,391.12 L113.54,390.94 L113.77,390.54 L114.01,389.92 L114.24,389.10 L114.47,388.07 L114.70,386.84 L114.93,385.41 L115.16,383.79 L115.39,381.98 L115.62,380.00 L115.85,377.85 L116.08,375.55 L116.32,373.09 L116.55,370.50 L116.78,367.77 L117.01,364.93 L117.24,361.98 L117.47,358.94 L117.70,355.81 L117.93,352.61 L118.16,349.36 L118.40,346.06 L118.63,342.72 L118.86,339.37 L119.09,336.01 L119.32,332.66 L119.55,329.32 L119.78,326.02 L120.01,322.76 L120.24,319.55 L120.47,316.42 L120.71,313.37 L120.94,310.40 L121.17,307.54 L121.40,304.79 L121.63,302.17 L121.86,299.68 L122.09,297.33 L122.32,295.13 L122.55,293.09 L122.79,291.21 L123.02,289.51 L123.25,287.98 L123.48,286.64 L123.71,285.48 L123.94,284.51 L124.17,283.74 L124.40,283.17 L124.63,282.79 L124.86,282.61 L125.10,282.63 L125.33,282.84 L125.56,283.25 L125.79,283.86 L126.02,284.65 L126.25,285.64 L126.48,286.80 L126.71,288.14 L126.94,289.65 L127.18,291.33 L127.41,293.17 L127.64,295.15 L127.87,297.28 L128.10,299.54 L128.33,301.92 L128.56,304.42 L128.79,307.02 L129.02,309.72 L129.25,312.50 L129.49,315.35 L129.72,318.27 L129.95,321.23 L130.18,324.24 L130.41,327.27 L130.64,330.31 L130.87,333.36 L131.10,336.40 L131.33,339.42 L131.57,342.41 L131.80,345.36 L132.03,348.25 L132.26,351.08 L132.49,353.83 L132.72,356.50 L132.95,359.07 L133.18,361.54 L133.41,363.89 L133.64,366.13 L133.88,368.23 L134.11,370.19 L134.34,372.01 L134.57,373.68 L134.80,375.19 L135.03,376.54 L135.26,377.72 L135.49,378.73 L135.72,379.57 L135.96,380.23 L136.19,380.71 L136.42,381.02 L136.65,381.14 L136.88,381.09 L137.11,380.85 L137.34,380.44 L137.57,379.86 L137.80,379.10 L138.03,378.18 L138.27,377.09 L138.50,375.84 L138.73,374.44 L138.96,372.89 L139.19,371.19 L139.42,369.37 L139.65,367.41 L139.88,365.34 L140.11,363.16 L140.35,360.88 L140.58,358.50 L140.81,356.04 L141.04,353.51 L141.27,350.91 L141.50,348.26 L141.73,345.57 L141.96,342.84 L142.19,340.09 L142.42,337.33 L142.66,334.58 L142.89,331.83 L143.12,329.10 L143.35,326.40 L143.58,323.74 L143.81,321.14 L144.04,318.59 L144.27,316.11 L144.50,313.72 L144.74,311.41 L144.97,309.20 L145.20,307.09 L145.43,305.10 L145.66,303.23 L145.89,301.48 L146.12,299.86 L146.35,298.39 L146.58,297.05 L146.81,295.87 L147.05,294.83 L147.28,293.96 L147.51,293.23 L147.74,292.67 L147.97,292.28 L148.20,292.04 L148.43,291.97 L148.66,292.06 L148.89,292.31 L149.13,292.72 L149.36,293.29 L149.59,294.01 L149.82,294.88 L150.05,295.91 L150.28,297.07 L150.51,298.38 L150.74,299.81 L150.97,301.38 L151.20,303.06 L151.44,304.86 L151.67,306.76 L151.90,308.76 L152.13,310.85 L152.36,313.03 L152.59,315.28 L152.82,317.59 L153.05,319.95 L153.28,322.37 L153.52,324.81 L153.75,327.29 L153.98,329.79 L154.21,332.29 L154.44,334.79 L154.67,337.28 L154.90,339.75 L155.13,342.18 L155.36,344.58 L155.59,346.93 L155.83,349.23 L156.06,351.46 L156.29,353.61 L156.52,355.68 L156.75,357.67 L156.98,359.56 L157.21,361.34 L157.44,363.01 L157.67,364.57 L157.91,366.01 L158.14,367.32 L158.37,368.49 L158.60,369.54 L158.83,370.44 L159.06,371.21 L159.29,371.83 L159.52,372.30 L159.75,372.63 L159.98,372.81 L160.22,372.85 L160.45,372.73 L160.68,372.47 L160.91,372.07 L161.14,371.52 L161.37,370.84 L161.60,370.01 L161.83,369.06 L162.06,367.97 L162.30,366.76 L162.53,365.43 L162.76,363.99 L162.99,362.44 L163.22,360.79 L163.45,359.05 L163.68,357.22 L163.91,355.31 L164.14,353.32 L164.37,351.27 L164.61,349.17 L164.84,347.01 L165.07,344.82 L165.30,342.59 L165.53,340.35 L165.76,338.09 L165.99,335.82 L166.22,333.56 L166.45,331.30 L166.69,329.07 L166.92,326.87 L167.15,324.71 L167.38,322.59 L167.61,320.53 L167.84,318.52 L168.07,316.59 L168.30,314.73 L168.53,312.95 L168.76,311.26 L169.00,309.67 L169.23,308.18 L169.46,306.79 L169.69,305.52 L169.92,304.36 L170.15,303.32 L170.38,302.41 L170.61,301.62 L170.84,300.95 L171.08,300.42 L171.31,300.02 L171.54,299.76 L171.77,299.63 L172.00,299.63 L172.23,299.76 L172.46,300.03 L172.69,300.43 L172.92,300.95 L173.15,301.60 L173.39,302.38 L173.62,303.27 L173.85,304.28 L174.08,305.41 L174.31,306.63 L174.54,307.96 L174.77,309.39 L175.00,310.91 L175.23,312.51 L175.47,314.18 L175.70,315.93 L175.93,317.75 L176.16,319.62 L176.39,321.54 L176.62,323.50 L176.85,325.49 L177.08,327.52 L177.31,329.56 L177.54,331.61 L177.78,333.66 L178.01,335.71 L178.24,337.75 L178.47,339.76 L178.70,341.75 L178.93,343.71 L179.16,345.61 L179.39,347.47 L179.62,349.28 L179.86,351.02 L180.09,352.68 L180.32,354.28 L180.55,355.79 L180.78,357.21 L181.01,358.54 L181.24,359.77 L181.47,360.90 L181.70,361.93 L181.93,362.85 L182.17,363.65 L182.40,364.34 L182.63,364.91 L182.86,365.37 L183.09,365.70 L183.32,365.92 L183.55,366.01 L183.78,365.98 L184.01,365.83 L184.25,365.56 L184.48,365.18 L184.71,364.67 L184.94,364.06 L185.17,363.33 L185.40,362.50 L185.63,361.56 L185.86,360.52 L186.09,359.38 L186.32,358.16 L186.56,356.85 L186.79,355.46 L187.02,353.99 L187.25,352.45 L187.48,350.86 L187.71,349.20 L187.94,347.50 L188.17,345.75 L188.40,343.96 L188.64,342.15 L188.87,340.31 L189.10,338.46 L189.33,336.60 L189.56,334.74 L189.79,332.89 L190.02,331.05 L190.25,329.22 L190.48,327.43 L190.71,325.67 L190.95,323.95 L191.18,322.28 L191.41,320.66 L191.64,319.10 L191.87,317.60 L192.10,316.18 L192.33,314.83 L192.56,313.56 L192.79,312.37 L193.03,311.27 L193.26,310.27 L193.49,309.37 L193.72,308.56 L193.95,307.85 L194.18,307.25 L194.41,306.76 L194.64,306.37 L194.87,306.10 L195.10,305.93 L195.34,305.87 L195.57,305.92 L195.80,306.08 L196.03,306.35 L196.26,306.73 L196.49,307.21 L196.72,307.79 L196.95,308.47 L197.18,309.25 L197.42,310.12 L197.65,311.09 L197.88,312.13 L198.11,313.26 L198.34,314.47 L198.57,315.75 L198.80,317.09 L199.03,318.50 L199.26,319.96 L199.49,321.47 L199.73,323.02 L199.96,324.62 L200.19,326.24 L200.42,327.89 L200.65,329.56 L200.88,331.24 L201.11,332.92 L201.34,334.61 L201.57,336.29 L201.81,337.95 L202.04,339.60 L202.27,341.22 L202.50,342.81 L202.73,344.36 L202.96,345.86 L203.19,347.32 L203.42,348.72 L203.65,350.06 L203.88,351.34 L204.12,352.54 L204.35,353.68 L204.58,354.73 L204.81,355.71 L205.04,356.60 L205.27,357.40 L205.50,358.11 L205.73,358.73 L205.96,359.25 L206.20,359.67 L206.43,360.00 L206.66,360.23 L206.89,360.36 L207.12,360.39 L207.35,360.32 L207.58,360.15 L207.81,359.89 L208.04,359.52 L208.27,359.07 L208.51,358.52 L208.74,357.88 L208.97,357.16 L209.20,356.35 L209.43,355.46 L209.66,354.49 L209.89,353.45 L210.12,352.34 L210.35,351.17 L210.59,349.94 L210.82,348.66 L211.05,347.32 L211.28,345.94 L211.51,344.53 L211.74,343.08 L211.97,341.60 L212.20,340.10 L212.43,338.59 L212.66,337.06 L212.90,335.53 L213.13,334.01 L213.36,332.49 L213.59,330.98 L213.82,329.50 L214.05,328.04 L214.28,326.61 L214.51,325.21 L214.74,323.86 L214.98,322.55 L215.21,321.29 L215.44,320.09 L215.67,318.95 L215.90,317.87 L216.13,316.86 L216.36,315.92 L216.59,315.06 L216.82,314.27 L217.05,313.56 L217.29,312.94 L217.52,312.40 L217.75,311.95 L217.98,311.58 L218.21,311.31 L218.44,311.12 L218.67,311.02 L218.90,311.02 L219.13,311.10 L219.37,311.28 L219.60,311.54 L219.83,311.89 L220.06,312.32 L220.29,312.84 L220.52,313.43 L220.75,314.11 L220.98,314.86 L221.21,315.68 L221.44,316.57 L221.68,317.53 L221.91,318.55 L222.14,319.62 L222.37,320.75 L222.60,321.93 L222.83,323.15 L223.06,324.40 L223.29,325.69 L223.52,327.02 L223.76,328.36 L223.99,329.72 L224.22,331.10 L224.45,332.48 L224.68,333.86 L224.91,335.25 L225.14,336.62 L225.37,337.98 L225.60,339.32 L225.83,340.64 L226.07,341.93 L226.30,343.19 L226.53,344.40 L226.76,345.58 L226.99,346.71 L227.22,347.79 L227.45,348.81 L227.68,349.77 L227.91,350.67 L228.15,351.51 L228.38,352.28 L228.61,352.97 L228.84,353.60 L229.07,354.15 L229.30,354.62 L229.53,355.01 L229.76,355.32 L229.99,355.55 L230.22,355.70 L230.46,355.77 L230.69,355.76 L230.92,355.66 L231.15,355.49 L231.38,355.23 L231.61,354.90 L231.84,354.49 L232.07,354.00 L232.30,353.45 L232.54,352.82 L232.77,352.12 L233.00,351.36 L233.23,350.54 L233.46,349.66 L233.69,348.73 L233.92,347.74 L234.15,346.71 L234.38,345.64 L234.61,344.52 L234.85,343.38 L235.08,342.20 L235.31,341.00 L235.54,339.78 L235.77,338.54 L236.00,337.29 L236.23,336.04 L236.46,334.78 L236.69,333.53 L236.93,332.29 L237.16,331.06 L237.39,329.85 L237.62,328.66 L237.85,327.50 L238.08,326.37 L238.31,325.28 L238.54,324.22 L238.77,323.21 L239.00,322.25 L239.24,321.33 L239.47,320.47 L239.70,319.67 L239.93,318.93 L240.16,318.24 L240.39,317.63 L240.62,317.08 L240.85,316.60 L241.08,316.19 L241.32,315.85 L241.55,315.59 L241.78,315.39 L242.01,315.28 L242.24,315.23 L242.47,315.26 L242.70,315.36 L242.93,315.54 L243.16,315.79 L243.39,316.11 L243.63,316.49 L243.86,316.95 L244.09,317.47 L244.32,318.05 L244.55,318.70 L244.78,319.40 L245.01,320.16 L245.24,320.97 L245.47,321.82 L245.71,322.73 L245.94,323.67 L246.17,324.65 L246.40,325.67 L246.63,326.72 L246.86,327.79 L247.09,328.88 L247.32,329.99 L247.55,331.12 L247.78,332.25 L248.02,333.39 L248.25,334.52 L248.48,335.65 L248.71,336.78 L248.94,337.89 L249.17,338.98 L249.40,340.05 L249.63,341.10 L249.86,342.12 L250.10,343.10 L250.33,344.05 L250.56,344.96 L250.79,345.82 L251.02,346.64 L251.25,347.41 L251.48,348.12 L251.71,348.78 L251.94,349.39 L252.17,349.93 L252.41,350.42 L252.64,350.84 L252.87,351.19 L253.10,351.48 L253.33,351.71 L253.56,351.87 L253.79,351.96 L254.02,351.99 L254.25,351.94 L254.49,351.84 L254.72,351.66 L254.95,351.42 L255.18,351.12 L255.41,350.75 L255.64,350.33 L255.87,349.84 L256.10,349.30 L256.33,348.71 L256.56,348.06 L256.80,347.36 L257.03,346.62 L257.26,345.83 L257.49,345.01 L257.72,344.14 L257.95,343.24 L258.18,342.32 L258.41,341.36 L258.64,340.39 L258.88,339.39 L259.11,338.38 L259.34,337.36 L259.57,336.34 L259.80,335.31 L260.03,334.28 L260.26,333.25 L260.49,332.24 L260.72,331.23 L260.95,330.25 L261.19,329.28 L261.42,328.34 L261.65,327.43 L261.88,326.54 L262.11,325.69 L262.34,324.88 L262.57,324.11 L262.80,323.37 L263.03,322.69 L263.27,322.05 L263.50,321.47 L263.73,320.93 L263.96,320.45 L264.19,320.03 L264.42,319.66 L264.65,319.35 L264.88,319.10 L265.11,318.91 L265.34,318.78 L265.58,318.71 L265.81,318.70 L266.04,318.76 L266.27,318.87 L266.50,319.04 L266.73,319.27 L266.96,319.56 L267.19,319.90 L267.42,320.30 L267.66,320.75 L267.89,321.25 L268.12,321.81 L268.35,322.40 L268.58,323.05 L268.81,323.73 L269.04,324.45 L269.27,325.21 L269.50,326.00 L269.73,326.82 L269.97,327.67 L270.20,328.54 L270.43,329.42 L270.66,330.33 L270.89,331.25 L271.12,332.17 L271.35,333.10 L271.58,334.04 L271.81,334.97 L272.05,335.90 L272.28,336.82 L272.51,337.72 L272.74,338.61 L272.97,339.48 L273.20,340.33 L273.43,341.15 L273.66,341.95 L273.89,342.71 L274.12,343.44 L274.36,344.13 L274.59,344.79 L274.82,345.40 L275.05,345.96 L275.28,346.48 L275.51,346.96 L275.74,347.38 L275.97,347.76 L276.20,348.08 L276.44,348.35 L276.67,348.56 L276.90,348.72 L277.13,348.83 L277.36,348.88 L277.59,348.87 L277.82,348.81 L278.05,348.70 L278.28,348.53 L278.51,348.31 L278.75,348.04 L278.98,347.71 L279.21,347.34 L279.44,346.92 L279.67,346.45 L279.90,345.95 L280.13,345.39 L280.36,344.80 L280.59,344.18 L280.83,343.52 L281.06,342.82 L281.29,342.10 L281.52,341.35 L281.75,340.58 L281.98,339.79 L282.21,338.98 L282.44,338.16 L282.67,337.32 L282.90,336.48 L283.14,335.64 L283.37,334.79 L283.60,333.95 L283.83,333.11 L284.06,332.28 L284.29,331.46 L284.52,330.66 L284.75,329.88 L284.98,329.11 L285.22,328.37 L285.45,327.66 L285.68,326.98 L285.91,326.32 L286.14,325.71 L286.37,325.12 L286.60,324.58 L286.83,324.07 L287.06,323.61 L287.29,323.19 L287.53,322.82 L287.76,322.49 L287.99,322.21 L288.22,321.98 L288.45,321.80 L288.68,321.67 L288.91,321.58 L289.14,321.55 L289.37,321.57 L289.61,321.63 L289.84,321.75 L290.07,321.91 L290.30,322.12 L290.53,322.38 L290.76,322.68 L290.99,323.03 L291.22,323.42 L291.45,323.85 L291.68,324.32 L291.92,324.83 L292.15,325.37 L292.38,325.95 L292.61,326.56 L292.84,327.19 L293.07,327.85 L293.30,328.54 L293.53,329.24 L293.76,329.96 L294.00,330.70 L294.23,331.45 L294.46,332.20 L294.69,332.97 L294.92,333.73 L295.15,334.50 L295.38,335.26 L295.61,336.02 L295.84,336.77 L296.07,337.51 L296.31,338.23 L296.54,338.94 L296.77,339.63 L297.00,340.29 L297.23,340.93 L297.46,341.55 L297.69,342.13 L297.92,342.69 L298.15,343.21 L298.39,343.69 L298.62,344.14 L298.85,344.55 L299.08,344.92 L299.31,345.25 L299.54,345.54 L299.77,345.78 L300.00,345.98 L300.23,346.14 L300.46,346.25 L300.70,346.31 L300.93,346.33 L301.16,346.31 L301.39,346.24 L301.62,346.12 L301.85,345.96 L302.08,345.76 L302.31,345.52 L302.54,345.24 L302.78,344.91 L303.01,344.55 L303.24,344.15 L303.47,343.72 L303.70,343.25 L303.93,342.75 L304.16,342.22 L304.39,341.67 L304.62,341.09 L304.85,340.48 L305.09,339.86 L305.32,339.22 L305.55,338.56 L305.78,337.89 L306.01,337.21 L306.24,336.53 L306.47,335.83 L306.70,335.14 L306.93,334.44 L307.17,333.75 L307.40,333.07 L307.63,332.39 L307.86,331.73 L308.09,331.07 L308.32,330.44 L308.55,329.82 L308.78,329.22 L309.01,328.65 L309.24,328.10 L309.48,327.57 L309.71,327.08 L309.94,326.62 L310.17,326.18 L310.40,325.79" fill="none" stroke="#ff1010" stroke-width="1.9" stroke-linejoin="round" />
<rect x="61.5" y="239.1" width="266.2" height="185.4" fill="none" stroke="#2a2a2a" stroke-width="1"/>
<line x1="61.00" y1="424.70" x2="328.20" y2="424.70" stroke="#5a5a5a" stroke-width="1.5" />
<line x1="79.00" y1="424.50" x2="79.00" y2="428.00" stroke="#2a2a2a" stroke-width="1" />
<line x1="79.00" y1="239.10" x2="79.00" y2="242.60" stroke="#2a2a2a" stroke-width="1" />
<line x1="136.85" y1="424.50" x2="136.85" y2="428.00" stroke="#2a2a2a" stroke-width="1" />
<line x1="136.85" y1="239.10" x2="136.85" y2="242.60" stroke="#2a2a2a" stroke-width="1" />
<line x1="194.70" y1="424.50" x2="194.70" y2="428.00" stroke="#2a2a2a" stroke-width="1" />
<line x1="194.70" y1="239.10" x2="194.70" y2="242.60" stroke="#2a2a2a" stroke-width="1" />
<line x1="252.55" y1="424.50" x2="252.55" y2="428.00" stroke="#2a2a2a" stroke-width="1" />
<line x1="252.55" y1="239.10" x2="252.55" y2="242.60" stroke="#2a2a2a" stroke-width="1" />
<line x1="310.40" y1="424.50" x2="310.40" y2="428.00" stroke="#2a2a2a" stroke-width="1" />
<line x1="310.40" y1="239.10" x2="310.40" y2="242.60" stroke="#2a2a2a" stroke-width="1" />
<line x1="107.92" y1="424.50" x2="107.92" y2="426.50" stroke="#2a2a2a" stroke-width="1" />
<line x1="107.92" y1="239.10" x2="107.92" y2="242.10" stroke="#2a2a2a" stroke-width="1" />
<line x1="165.78" y1="424.50" x2="165.78" y2="426.50" stroke="#2a2a2a" stroke-width="1" />
<line x1="165.78" y1="239.10" x2="165.78" y2="242.10" stroke="#2a2a2a" stroke-width="1" />
<line x1="223.62" y1="424.50" x2="223.62" y2="426.50" stroke="#2a2a2a" stroke-width="1" />
<line x1="223.62" y1="239.10" x2="223.62" y2="242.10" stroke="#2a2a2a" stroke-width="1" />
<line x1="281.48" y1="424.50" x2="281.48" y2="426.50" stroke="#2a2a2a" stroke-width="1" />
<line x1="281.48" y1="239.10" x2="281.48" y2="242.10" stroke="#2a2a2a" stroke-width="1" />
<line x1="58.00" y1="415.48" x2="61.50" y2="415.48" stroke="#2a2a2a" stroke-width="1" />
<line x1="327.70" y1="415.48" x2="324.20" y2="415.48" stroke="#2a2a2a" stroke-width="1" />
<line x1="58.00" y1="396.96" x2="61.50" y2="396.96" stroke="#2a2a2a" stroke-width="1" />
<line x1="327.70" y1="396.96" x2="324.20" y2="396.96" stroke="#2a2a2a" stroke-width="1" />
<line x1="58.00" y1="378.44" x2="61.50" y2="378.44" stroke="#2a2a2a" stroke-width="1" />
<line x1="327.70" y1="378.44" x2="324.20" y2="378.44" stroke="#2a2a2a" stroke-width="1" />
<line x1="58.00" y1="359.92" x2="61.50" y2="359.92" stroke="#2a2a2a" stroke-width="1" />
<line x1="327.70" y1="359.92" x2="324.20" y2="359.92" stroke="#2a2a2a" stroke-width="1" />
<line x1="58.00" y1="341.40" x2="61.50" y2="341.40" stroke="#2a2a2a" stroke-width="1" />
<line x1="327.70" y1="341.40" x2="324.20" y2="341.40" stroke="#2a2a2a" stroke-width="1" />
<line x1="58.00" y1="322.88" x2="61.50" y2="322.88" stroke="#2a2a2a" stroke-width="1" />
<line x1="327.70" y1="322.88" x2="324.20" y2="322.88" stroke="#2a2a2a" stroke-width="1" />
<line x1="58.00" y1="304.36" x2="61.50" y2="304.36" stroke="#2a2a2a" stroke-width="1" />
<line x1="327.70" y1="304.36" x2="324.20" y2="304.36" stroke="#2a2a2a" stroke-width="1" />
<line x1="58.00" y1="285.84" x2="61.50" y2="285.84" stroke="#2a2a2a" stroke-width="1" />
<line x1="327.70" y1="285.84" x2="324.20" y2="285.84" stroke="#2a2a2a" stroke-width="1" />
<line x1="58.00" y1="267.32" x2="61.50" y2="267.32" stroke="#2a2a2a" stroke-width="1" />
<line x1="327.70" y1="267.32" x2="324.20" y2="267.32" stroke="#2a2a2a" stroke-width="1" />
<line x1="58.00" y1="248.80" x2="61.50" y2="248.80" stroke="#2a2a2a" stroke-width="1" />
<line x1="327.70" y1="248.80" x2="324.20" y2="248.80" stroke="#2a2a2a" stroke-width="1" />
<line x1="59.50" y1="424.74" x2="61.50" y2="424.74" stroke="#2a2a2a" stroke-width="1" />
<line x1="327.70" y1="424.74" x2="324.70" y2="424.74" stroke="#2a2a2a" stroke-width="1" />
<line x1="59.50" y1="406.22" x2="61.50" y2="406.22" stroke="#2a2a2a" stroke-width="1" />
<line x1="327.70" y1="406.22" x2="324.70" y2="406.22" stroke="#2a2a2a" stroke-width="1" />
<line x1="59.50" y1="387.70" x2="61.50" y2="387.70" stroke="#2a2a2a" stroke-width="1" />
<line x1="327.70" y1="387.70" x2="324.70" y2="387.70" stroke="#2a2a2a" stroke-width="1" />
<line x1="59.50" y1="369.18" x2="61.50" y2="369.18" stroke="#2a2a2a" stroke-width="1" />
<line x1="327.70" y1="369.18" x2="324.70" y2="369.18" stroke="#2a2a2a" stroke-width="1" />
<line x1="59.50" y1="350.66" x2="61.50" y2="350.66" stroke="#2a2a2a" stroke-width="1" />
<line x1="327.70" y1="350.66" x2="324.70" y2="350.66" stroke="#2a2a2a" stroke-width="1" />
<line x1="59.50" y1="332.14" x2="61.50" y2="332.14" stroke="#2a2a2a" stroke-width="1" />
<line x1="327.70" y1="332.14" x2="324.70" y2="332.14" stroke="#2a2a2a" stroke-width="1" />
<line x1="59.50" y1="313.62" x2="61.50" y2="313.62" stroke="#2a2a2a" stroke-width="1" />
<line x1="327.70" y1="313.62" x2="324.70" y2="313.62" stroke="#2a2a2a" stroke-width="1" />
<line x1="59.50" y1="295.10" x2="61.50" y2="295.10" stroke="#2a2a2a" stroke-width="1" />
<line x1="327.70" y1="295.10" x2="324.70" y2="295.10" stroke="#2a2a2a" stroke-width="1" />
<line x1="59.50" y1="276.58" x2="61.50" y2="276.58" stroke="#2a2a2a" stroke-width="1" />
<line x1="327.70" y1="276.58" x2="324.70" y2="276.58" stroke="#2a2a2a" stroke-width="1" />
<line x1="59.50" y1="258.06" x2="61.50" y2="258.06" stroke="#2a2a2a" stroke-width="1" />
<line x1="327.70" y1="258.06" x2="324.70" y2="258.06" stroke="#2a2a2a" stroke-width="1" />
<text x="79.00" y="440.00" font-size="10.5" text-anchor="middle" fill="#111" font-weight="normal" >0</text>
<text x="136.85" y="440.00" font-size="10.5" text-anchor="middle" fill="#111" font-weight="normal" >5</text>
<text x="194.70" y="440.00" font-size="10.5" text-anchor="middle" fill="#111" font-weight="normal" >10</text>
<text x="252.55" y="440.00" font-size="10.5" text-anchor="middle" fill="#111" font-weight="normal" >15</text>
<text x="310.40" y="440.00" font-size="10.5" text-anchor="middle" fill="#111" font-weight="normal" >20</text>
<text x="54.80" y="418.74" font-size="10.5" text-anchor="end" fill="#111" font-weight="normal" >0.82</text>
<text x="54.80" y="400.22" font-size="10.5" text-anchor="end" fill="#111" font-weight="normal" >0.84</text>
<text x="54.80" y="381.70" font-size="10.5" text-anchor="end" fill="#111" font-weight="normal" >0.86</text>
<text x="54.80" y="363.18" font-size="10.5" text-anchor="end" fill="#111" font-weight="normal" >0.88</text>
<text x="54.80" y="344.65" font-size="10.5" text-anchor="end" fill="#111" font-weight="normal" >0.90</text>
<text x="54.80" y="326.13" font-size="10.5" text-anchor="end" fill="#111" font-weight="normal" >0.92</text>
<text x="54.80" y="307.62" font-size="10.5" text-anchor="end" fill="#111" font-weight="normal" >0.94</text>
<text x="54.80" y="289.10" font-size="10.5" text-anchor="end" fill="#111" font-weight="normal" >0.96</text>
<text x="54.80" y="270.58" font-size="10.5" text-anchor="end" fill="#111" font-weight="normal" >0.98</text>
<text x="54.80" y="252.06" font-size="10.5" text-anchor="end" fill="#111" font-weight="normal" >1.00</text>
<text x="8.80" y="259.20" font-size="19.5" text-anchor="start" fill="#000" font-weight="bold" >c</text>
<text x="191.50" y="461.30" font-size="16.5" text-anchor="middle" fill="#000" font-weight="normal" >τ (μs)</text>
<text transform="translate(16.3,328.9) rotate(-90)" font-size="17" text-anchor="middle"><tspan font-style="italic">PL<tspan font-size="11.5" dy="3.2">sig</tspan></tspan><tspan dy="-3.2"> / </tspan><tspan font-style="italic">PL<tspan font-size="11.5" dy="3.2">ref</tspan></tspan></text>
<rect x="124.3" y="379.2" width="192.5" height="34.6" fill="#fff" stroke="#a0a0a0" stroke-width="0.8"/>
<line x1="125.50" y1="385.30" x2="150.70" y2="385.30" stroke="#000" stroke-width="1.1" />
<line x1="125.50" y1="403.70" x2="152.00" y2="403.70" stroke="#ff1010" stroke-width="1.9" />
<text x="153.70" y="389.00" font-size="11" text-anchor="start" fill="#000" font-weight="normal" ><tspan font-style="italic">B</tspan><tspan font-size="7.5" dy="2.5">0</tspan><tspan dy="-2.5"> = 10 G</tspan></text>
<text x="159.20" y="407.40" font-size="11" text-anchor="start" fill="#000" font-weight="normal" ><tspan font-style="italic">T</tspan><tspan font-size="7.5" dy="2.5">2</tspan><tspan font-size="7.5" dy="-7.5">Rabi</tspan><tspan dy="5"> = (10.3 ± 0.7) μs; π = 1 μs</tspan></text>
<rect x="200.8" y="248.6" width="21.3" height="12.7" fill="#007f00"/>
<rect x="260.5" y="248.6" width="20.9" height="12.7" fill="#007f00"/>
<line x1="222.00" y1="261.30" x2="260.50" y2="261.30" stroke="#55e055" stroke-width="0.9" />
<text x="211.40" y="257.80" font-size="7.5" text-anchor="middle" fill="#fff" font-weight="normal" >4 μs</text>
<text x="271.00" y="257.80" font-size="7.5" text-anchor="middle" fill="#fff" font-weight="normal" >4 μs</text>
<rect x="223.7" y="267.2" width="36.4" height="10.6" fill="#0000a0"/>
<line x1="202.30" y1="277.40" x2="281.00" y2="277.40" stroke="#6060d0" stroke-width="0.8" />
<text x="242.00" y="275.00" font-size="8" text-anchor="middle" fill="#fff" font-weight="normal" >τ</text>
<rect x="261.5" y="286" width="5.8" height="11.2" fill="#000"/>
<rect x="272.4" y="286" width="5.9" height="11.2" fill="#000"/>
<text x="264.40" y="294.80" font-size="9" text-anchor="middle" fill="#fff" font-weight="normal" textLength="5" lengthAdjust="spacingAndGlyphs">S</text>
<text x="275.35" y="294.80" font-size="9" text-anchor="middle" fill="#fff" font-weight="normal" textLength="5.2" lengthAdjust="spacingAndGlyphs">R</text>
<line x1="202.00" y1="297.20" x2="281.00" y2="297.20" stroke="#000" stroke-width="0.8" />
<text x="288.70" y="258.40" font-size="7.4" text-anchor="start" fill="#1a8a1a" font-weight="normal" >Laser</text>
<text x="288.70" y="276.40" font-size="7.4" text-anchor="start" fill="#2020c0" font-weight="normal" >MW</text>
<text x="288.70" y="295.60" font-size="7.4" text-anchor="start" fill="#111" font-weight="normal" >Readout</text>
<path d="M440.30,264.80 L441.30,277.60 L443.50,294.86 L445.70,316.51 L447.90,340.14 L450.10,362.89 L451.29,378.55 L453.71,383.39 L456.13,397.90 L457.74,401.13 L460.16,397.10 L461.77,394.68 L465.00,386.61 L466.61,373.71 L467.42,352.74 L469.03,350.32 L471.23,331.88 L473.43,314.75 L475.63,289.62 L477.89,293.39 L480.45,281.34 L482.41,287.36 L485.42,297.90 L486.92,303.17 L489.12,328.73 L491.32,347.40 L493.52,365.01 L494.84,376.94 L498.87,386.61 L501.29,389.03 L503.71,378.55 L505.32,376.13 L507.74,363.23 L509.35,357.58 L511.77,351.13 L515.00,338.23 L517.20,329.20 L519.40,319.37 L521.60,319.27 L523.80,319.83 L524.79,331.28 L529.30,342.57 L532.69,353.85 L534.94,356.11 L537.88,365.14 L540.00,374.09 L544.74,376.94 L546.64,357.96 L548.54,375.99 L550.44,359.86 L553.29,381.68 L555.18,360.80 L558.98,357.01 L561.83,355.11 L564.29,348.47 L566.57,350.37 L568.85,332.34 L570.75,342.77 L573.21,348.47 L575.11,359.86 L577.96,360.80 L580.43,368.40 L582.13,357.96 L584.60,376.94 L586.50,362.70 L588.97,375.04 L590.86,352.26 L593.14,371.24 L595.42,372.19 L597.89,352.26 L600.73,351.32 L603.58,350.37 L605.48,350.37 L608.32,353.21 L610.60,361.75 L613.07,357.96 L614.97,360.80 L617.43,350.37 L619.71,357.96 L621.99,348.47 L624.46,361.75 L627.30,360.80 L630.72,379.78 L633.00,357.01 L635.84,355.11 L638.31,359.86 L640.59,358.91 L643.44,357.01 L646.28,346.57 L648.56,357.01 L651.98,359.86 L653.87,362.70 L656.15,371.24 L659.57,375.99 L662.41,351.32" fill="none" stroke="#555" stroke-width="0.8" stroke-linejoin="round" />
<path d="M440.70,278.54 L441.07,280.53 L441.44,282.69 L441.81,285.02 L442.18,287.50 L442.55,290.14 L442.92,292.92 L443.29,295.83 L443.66,298.87 L444.03,302.03 L444.40,305.29 L444.77,308.66 L445.14,312.10 L445.51,315.63 L445.88,319.22 L446.25,322.86 L446.62,326.55 L446.99,330.27 L447.36,334.01 L447.73,337.76 L448.10,341.51 L448.47,345.24 L448.84,348.95 L449.21,352.63 L449.59,356.26 L449.96,359.82 L450.33,363.33 L450.70,366.75 L451.07,370.08 L451.44,373.31 L451.81,376.43 L452.18,379.43 L452.55,382.30 L452.92,385.03 L453.29,387.62 L453.66,390.06 L454.03,392.33 L454.40,394.44 L454.77,396.37 L455.14,398.12 L455.51,399.69 L455.88,401.06 L456.25,402.24 L456.62,403.22 L456.99,404.00 L457.36,404.58 L457.73,404.95 L458.10,405.12 L458.47,405.09 L458.84,404.89 L459.21,404.53 L459.58,404.00 L459.95,403.31 L460.32,402.45 L460.69,401.44 L461.06,400.28 L461.43,398.96 L461.80,397.49 L462.17,395.88 L462.54,394.13 L462.91,392.24 L463.28,390.23 L463.65,388.09 L464.02,385.83 L464.39,383.46 L464.76,380.99 L465.13,378.41 L465.50,375.75 L465.87,373.01 L466.24,370.19 L466.62,367.30 L466.99,364.35 L467.36,361.35 L467.73,358.32 L468.10,355.24 L468.47,352.14 L468.84,349.03 L469.21,345.91 L469.58,342.79 L469.95,339.68 L470.32,336.59 L470.69,333.52 L471.06,330.50 L471.43,327.52 L471.80,324.59 L472.17,321.72 L472.54,318.92 L472.91,316.21 L473.28,313.57 L473.65,311.03 L474.02,308.59 L474.39,306.26 L474.76,304.04 L475.13,301.94 L475.50,299.96 L475.87,298.12 L476.24,296.42 L476.61,294.85 L476.98,293.43 L477.35,292.16 L477.72,291.05 L478.09,290.09 L478.46,289.29 L478.83,288.65 L479.20,288.18 L479.57,287.87 L479.94,287.72 L480.31,287.74 L480.68,287.93 L481.05,288.28 L481.42,288.80 L481.79,289.47 L482.16,290.31 L482.53,291.30 L482.90,292.45 L483.27,293.75 L483.65,295.19 L484.02,296.78 L484.39,298.50 L484.76,300.35 L485.13,302.32 L485.50,304.42 L485.87,306.62 L486.24,308.93 L486.61,311.34 L486.98,313.83 L487.35,316.41 L487.72,319.06 L488.09,321.77 L488.46,324.54 L488.83,327.35 L489.20,330.21 L489.57,333.09 L489.94,335.99 L490.31,338.89 L490.68,341.80 L491.05,344.70 L491.42,347.58 L491.79,350.43 L492.16,353.25 L492.53,356.02 L492.90,358.73 L493.27,361.38 L493.64,363.96 L494.01,366.45 L494.38,368.86 L494.75,371.17 L495.12,373.38 L495.49,375.47 L495.86,377.45 L496.23,379.30 L496.60,381.02 L496.97,382.60 L497.34,384.05 L497.71,385.35 L498.08,386.49 L498.45,387.49 L498.82,388.33 L499.19,389.00 L499.56,389.52 L499.93,389.87 L500.30,390.06 L500.68,390.09 L501.05,390.00 L501.42,389.81 L501.79,389.53 L502.16,389.14 L502.53,388.66 L502.90,388.08 L503.27,387.41 L503.64,386.64 L504.01,385.79 L504.38,384.84 L504.75,383.81 L505.12,382.70 L505.49,381.51 L505.86,380.24 L506.23,378.90 L506.60,377.49 L506.97,376.02 L507.34,374.48 L507.71,372.89 L508.08,371.25 L508.45,369.56 L508.82,367.82 L509.19,366.05 L509.56,364.25 L509.93,362.41 L510.30,360.56 L510.67,358.68 L511.04,356.80 L511.41,354.91 L511.78,353.01 L512.15,351.12 L512.52,349.24 L512.89,347.37 L513.26,345.52 L513.63,343.69 L514.00,341.90 L514.37,340.14 L514.74,338.42 L515.11,336.74 L515.48,335.11 L515.85,333.54 L516.22,332.02 L516.59,330.57 L516.96,329.18 L517.33,327.86 L517.71,326.61 L518.08,325.45 L518.45,324.36 L518.82,323.35 L519.19,322.44 L519.56,321.61 L519.93,320.87 L520.30,320.23 L520.67,319.68 L521.04,319.23 L521.41,318.87 L521.78,318.62 L522.15,318.46 L522.52,318.40 L522.89,318.44 L523.26,318.55 L523.63,318.75 L524.00,319.02 L524.37,319.37 L524.74,319.80 L525.11,320.30 L525.48,320.88 L525.85,321.52 L526.22,322.24 L526.59,323.03 L526.96,323.88 L527.33,324.80 L527.70,325.77 L528.07,326.80 L528.44,327.89 L528.81,329.03 L529.18,330.21 L529.55,331.44 L529.92,332.71 L530.29,334.02 L530.66,335.35 L531.03,336.72 L531.40,338.11 L531.77,339.52 L532.14,340.95 L532.51,342.38 L532.88,343.83 L533.25,345.27 L533.62,346.72 L533.99,348.15 L534.36,349.58 L534.74,350.99 L535.11,352.39 L535.48,353.76 L535.85,355.10 L536.22,356.41 L536.59,357.69 L536.96,358.92 L537.33,360.12 L537.70,361.26 L538.07,362.36 L538.44,363.40 L538.81,364.38 L539.18,365.31 L539.55,366.17 L539.92,366.97 L540.29,367.70 L540.66,368.36 L541.03,368.95 L541.40,369.46 L541.77,369.90 L542.14,370.27 L542.51,370.55 L542.88,370.76 L543.25,370.89 L543.62,370.93 L543.99,370.92 L544.36,370.86 L544.73,370.75 L545.10,370.60 L545.47,370.41 L545.84,370.18 L546.21,369.90 L546.58,369.59 L546.95,369.23 L547.32,368.84 L547.69,368.41 L548.06,367.94 L548.43,367.44 L548.80,366.90 L549.17,366.33 L549.54,365.74 L549.91,365.12 L550.28,364.47 L550.65,363.80 L551.02,363.10 L551.39,362.39 L551.77,361.66 L552.14,360.92 L552.51,360.16 L552.88,359.39 L553.25,358.62 L553.62,357.84 L553.99,357.06 L554.36,356.28 L554.73,355.50 L555.10,354.72 L555.47,353.96 L555.84,353.20 L556.21,352.45 L556.58,351.72 L556.95,351.01 L557.32,350.31 L557.69,349.64 L558.06,348.99 L558.43,348.36 L558.80,347.77 L559.17,347.20 L559.54,346.66 L559.91,346.16 L560.28,345.69 L560.65,345.25 L561.02,344.85 L561.39,344.50 L561.76,344.18 L562.13,343.90 L562.50,343.66 L562.87,343.47 L563.24,343.32 L563.61,343.21 L563.98,343.14 L564.35,343.12 L564.72,343.14 L565.09,343.18 L565.46,343.25 L565.83,343.35 L566.20,343.48 L566.57,343.63 L566.94,343.81 L567.31,344.02 L567.68,344.25 L568.05,344.51 L568.42,344.79 L568.80,345.10 L569.17,345.43 L569.54,345.78 L569.91,346.15 L570.28,346.54 L570.65,346.95 L571.02,347.37 L571.39,347.82 L571.76,348.28 L572.13,348.75 L572.50,349.23 L572.87,349.73 L573.24,350.23 L573.61,350.75 L573.98,351.27 L574.35,351.79 L574.72,352.32 L575.09,352.86 L575.46,353.39 L575.83,353.92 L576.20,354.45 L576.57,354.98 L576.94,355.50 L577.31,356.02 L577.68,356.53 L578.05,357.03 L578.42,357.52 L578.79,357.99 L579.16,358.46 L579.53,358.91 L579.90,359.34 L580.27,359.75 L580.64,360.15 L581.01,360.53 L581.38,360.89 L581.75,361.22 L582.12,361.54 L582.49,361.83 L582.86,362.09 L583.23,362.34 L583.60,362.55 L583.97,362.74 L584.34,362.90 L584.71,363.04 L585.08,363.15 L585.45,363.23 L585.83,363.28 L586.20,363.31 L586.57,363.31 L586.94,363.30 L587.31,363.27 L587.68,363.23 L588.05,363.19 L588.42,363.13 L588.79,363.06 L589.16,362.97 L589.53,362.88 L589.90,362.78 L590.27,362.66 L590.64,362.54 L591.01,362.41 L591.38,362.27 L591.75,362.12 L592.12,361.97 L592.49,361.80 L592.86,361.63 L593.23,361.46 L593.60,361.28 L593.97,361.09 L594.34,360.90 L594.71,360.71 L595.08,360.52 L595.45,360.32 L595.82,360.12 L596.19,359.92 L596.56,359.73 L596.93,359.53 L597.30,359.34 L597.67,359.14 L598.04,358.95 L598.41,358.77 L598.78,358.59 L599.15,358.41 L599.52,358.24 L599.89,358.08 L600.26,357.92 L600.63,357.77 L601.00,357.63 L601.37,357.50 L601.74,357.38 L602.11,357.26 L602.48,357.16 L602.86,357.07 L603.23,356.98 L603.60,356.91 L603.97,356.85 L604.34,356.80 L604.71,356.76 L605.08,356.74 L605.45,356.72 L605.82,356.72 L606.19,356.73 L606.56,356.74 L606.93,356.76 L607.30,356.80 L607.67,356.83 L608.04,356.88 L608.41,356.93 L608.78,357.00 L609.15,357.07 L609.52,357.14 L609.89,357.23 L610.26,357.32 L610.63,357.41 L611.00,357.52 L611.37,357.63 L611.74,357.74 L612.11,357.86 L612.48,357.99 L612.85,358.12 L613.22,358.26 L613.59,358.40 L613.96,358.55 L614.33,358.70 L614.70,358.85 L615.07,359.01 L615.44,359.17 L615.81,359.33 L616.18,359.49 L616.55,359.66 L616.92,359.82 L617.29,359.99 L617.66,360.16 L618.03,360.33 L618.40,360.50 L618.77,360.66 L619.14,360.83 L619.51,361.00 L619.89,361.16 L620.26,361.32 L620.63,361.48 L621.00,361.63 L621.37,361.79 L621.74,361.93 L622.11,362.08 L622.48,362.22 L622.85,362.36 L623.22,362.49 L623.59,362.61 L623.96,362.73 L624.33,362.85 L624.70,362.96 L625.07,363.06 L625.44,363.15 L625.81,363.24 L626.18,363.32 L626.55,363.40 L626.92,363.47 L627.29,363.52 L627.66,363.58 L628.03,363.62 L628.40,363.66 L628.77,363.69 L629.14,363.71 L629.51,363.72 L629.88,363.72 L630.25,363.72 L630.62,363.73 L630.99,363.73 L631.36,363.74 L631.73,363.74 L632.10,363.75 L632.47,363.76 L632.84,363.77 L633.21,363.78 L633.58,363.80 L633.95,363.81 L634.32,363.83 L634.69,363.84 L635.06,363.86 L635.43,363.88 L635.80,363.90 L636.17,363.91 L636.54,363.93 L636.92,363.95 L637.29,363.97 L637.66,363.99 L638.03,364.00 L638.40,364.02 L638.77,364.04 L639.14,364.05 L639.51,364.07 L639.88,364.08 L640.25,364.09 L640.62,364.10 L640.99,364.11 L641.36,364.12 L641.73,364.13 L642.10,364.13 L642.47,364.13 L642.84,364.14 L643.21,364.14 L643.58,364.14 L643.95,364.15 L644.32,364.16 L644.69,364.17 L645.06,364.19 L645.43,364.21 L645.80,364.23 L646.17,364.26 L646.54,364.29 L646.91,364.33 L647.28,364.37 L647.65,364.41 L648.02,364.45 L648.39,364.50 L648.76,364.55 L649.13,364.60 L649.50,364.66 L649.87,364.71 L650.24,364.77 L650.61,364.84 L650.98,364.90 L651.35,364.96 L651.72,365.03 L652.09,365.10 L652.46,365.17 L652.83,365.23 L653.20,365.30 L653.57,365.37 L653.95,365.45 L654.32,365.52 L654.69,365.59 L655.06,365.66 L655.43,365.73 L655.80,365.80 L656.17,365.86 L656.54,365.93 L656.91,366.00 L657.28,366.06 L657.65,366.12 L658.02,366.19 L658.39,366.24 L658.76,366.30 L659.13,366.36 L659.50,366.41 L659.87,366.46 L660.24,366.50 L660.61,366.55 L660.98,366.59 L661.35,366.63 L661.72,366.66 L662.09,366.69 L662.46,366.72" fill="none" stroke="#ff1010" stroke-width="1.9" stroke-linejoin="round" />
<rect x="418.3" y="239.2" width="265.7" height="185.60000000000002" fill="none" stroke="#2a2a2a" stroke-width="1"/>
<line x1="417.80" y1="425.00" x2="684.50" y2="425.00" stroke="#5a5a5a" stroke-width="1.5" />
<line x1="440.60" y1="424.80" x2="440.60" y2="428.30" stroke="#2a2a2a" stroke-width="1" />
<line x1="440.60" y1="239.20" x2="440.60" y2="242.70" stroke="#2a2a2a" stroke-width="1" />
<line x1="484.80" y1="424.80" x2="484.80" y2="428.30" stroke="#2a2a2a" stroke-width="1" />
<line x1="484.80" y1="239.20" x2="484.80" y2="242.70" stroke="#2a2a2a" stroke-width="1" />
<line x1="529.00" y1="424.80" x2="529.00" y2="428.30" stroke="#2a2a2a" stroke-width="1" />
<line x1="529.00" y1="239.20" x2="529.00" y2="242.70" stroke="#2a2a2a" stroke-width="1" />
<line x1="573.20" y1="424.80" x2="573.20" y2="428.30" stroke="#2a2a2a" stroke-width="1" />
<line x1="573.20" y1="239.20" x2="573.20" y2="242.70" stroke="#2a2a2a" stroke-width="1" />
<line x1="617.40" y1="424.80" x2="617.40" y2="428.30" stroke="#2a2a2a" stroke-width="1" />
<line x1="617.40" y1="239.20" x2="617.40" y2="242.70" stroke="#2a2a2a" stroke-width="1" />
<line x1="661.60" y1="424.80" x2="661.60" y2="428.30" stroke="#2a2a2a" stroke-width="1" />
<line x1="661.60" y1="239.20" x2="661.60" y2="242.70" stroke="#2a2a2a" stroke-width="1" />
<line x1="462.70" y1="424.80" x2="462.70" y2="426.80" stroke="#2a2a2a" stroke-width="1" />
<line x1="462.70" y1="239.20" x2="462.70" y2="242.20" stroke="#2a2a2a" stroke-width="1" />
<line x1="506.90" y1="424.80" x2="506.90" y2="426.80" stroke="#2a2a2a" stroke-width="1" />
<line x1="506.90" y1="239.20" x2="506.90" y2="242.20" stroke="#2a2a2a" stroke-width="1" />
<line x1="551.10" y1="424.80" x2="551.10" y2="426.80" stroke="#2a2a2a" stroke-width="1" />
<line x1="551.10" y1="239.20" x2="551.10" y2="242.20" stroke="#2a2a2a" stroke-width="1" />
<line x1="595.30" y1="424.80" x2="595.30" y2="426.80" stroke="#2a2a2a" stroke-width="1" />
<line x1="595.30" y1="239.20" x2="595.30" y2="242.20" stroke="#2a2a2a" stroke-width="1" />
<line x1="639.50" y1="424.80" x2="639.50" y2="426.80" stroke="#2a2a2a" stroke-width="1" />
<line x1="639.50" y1="239.20" x2="639.50" y2="242.20" stroke="#2a2a2a" stroke-width="1" />
<line x1="414.80" y1="424.70" x2="418.30" y2="424.70" stroke="#2a2a2a" stroke-width="1" />
<line x1="684.00" y1="424.70" x2="680.50" y2="424.70" stroke="#2a2a2a" stroke-width="1" />
<line x1="414.80" y1="383.50" x2="418.30" y2="383.50" stroke="#2a2a2a" stroke-width="1" />
<line x1="684.00" y1="383.50" x2="680.50" y2="383.50" stroke="#2a2a2a" stroke-width="1" />
<line x1="414.80" y1="342.30" x2="418.30" y2="342.30" stroke="#2a2a2a" stroke-width="1" />
<line x1="684.00" y1="342.30" x2="680.50" y2="342.30" stroke="#2a2a2a" stroke-width="1" />
<line x1="414.80" y1="301.10" x2="418.30" y2="301.10" stroke="#2a2a2a" stroke-width="1" />
<line x1="684.00" y1="301.10" x2="680.50" y2="301.10" stroke="#2a2a2a" stroke-width="1" />
<line x1="414.80" y1="259.90" x2="418.30" y2="259.90" stroke="#2a2a2a" stroke-width="1" />
<line x1="684.00" y1="259.90" x2="680.50" y2="259.90" stroke="#2a2a2a" stroke-width="1" />
<line x1="416.30" y1="404.10" x2="418.30" y2="404.10" stroke="#2a2a2a" stroke-width="1" />
<line x1="684.00" y1="404.10" x2="681.00" y2="404.10" stroke="#2a2a2a" stroke-width="1" />
<line x1="416.30" y1="362.90" x2="418.30" y2="362.90" stroke="#2a2a2a" stroke-width="1" />
<line x1="684.00" y1="362.90" x2="681.00" y2="362.90" stroke="#2a2a2a" stroke-width="1" />
<line x1="416.30" y1="321.70" x2="418.30" y2="321.70" stroke="#2a2a2a" stroke-width="1" />
<line x1="684.00" y1="321.70" x2="681.00" y2="321.70" stroke="#2a2a2a" stroke-width="1" />
<line x1="416.30" y1="280.50" x2="418.30" y2="280.50" stroke="#2a2a2a" stroke-width="1" />
<line x1="684.00" y1="280.50" x2="681.00" y2="280.50" stroke="#2a2a2a" stroke-width="1" />
<text x="440.60" y="440.20" font-size="11.3" text-anchor="middle" fill="#111" font-weight="normal" >0</text>
<text x="484.80" y="440.20" font-size="11.3" text-anchor="middle" fill="#111" font-weight="normal" >1</text>
<text x="529.00" y="440.20" font-size="11.3" text-anchor="middle" fill="#111" font-weight="normal" >2</text>
<text x="573.20" y="440.20" font-size="11.3" text-anchor="middle" fill="#111" font-weight="normal" >3</text>
<text x="617.40" y="440.20" font-size="11.3" text-anchor="middle" fill="#111" font-weight="normal" >4</text>
<text x="661.60" y="440.20" font-size="11.3" text-anchor="middle" fill="#111" font-weight="normal" >5</text>
<text x="412.30" y="428.20" font-size="11.3" text-anchor="end" fill="#111" font-weight="normal" >0.88</text>
<text x="412.30" y="387.00" font-size="11.3" text-anchor="end" fill="#111" font-weight="normal" >0.90</text>
<text x="412.30" y="345.80" font-size="11.3" text-anchor="end" fill="#111" font-weight="normal" >0.92</text>
<text x="412.30" y="304.60" font-size="11.3" text-anchor="end" fill="#111" font-weight="normal" >0.94</text>
<text x="412.30" y="263.40" font-size="11.3" text-anchor="end" fill="#111" font-weight="normal" >0.96</text>
<text x="369.30" y="258.90" font-size="19.5" text-anchor="start" fill="#000" font-weight="bold" >d</text>
<text x="557.40" y="461.30" font-size="16.5" text-anchor="middle" fill="#000" font-weight="normal" >τ (μs)</text>
<text transform="translate(375,329.8) rotate(-90)" font-size="15" text-anchor="middle"><tspan font-style="italic">PL<tspan font-size="10.5" dy="3">sig</tspan></tspan><tspan dy="-3"> / </tspan><tspan font-style="italic">PL<tspan font-size="10.5" dy="3">ref</tspan></tspan></text>
<rect x="531.2" y="384.2" width="117.8" height="32" fill="#fff" stroke="#a0a0a0" stroke-width="0.8"/>
<line x1="533.00" y1="390.50" x2="556.60" y2="390.50" stroke="#555" stroke-width="0.9" />
<line x1="533.00" y1="407.80" x2="556.60" y2="407.80" stroke="#ff1010" stroke-width="1.9" />
<text x="559.90" y="394.70" font-size="10.2" text-anchor="start" fill="#000" font-weight="normal" ><tspan font-style="italic">B</tspan><tspan font-size="7.5" dy="2.5">0</tspan><tspan dy="-2.5"> = - 1.8 G</tspan></text>
<text x="560.80" y="411.10" font-size="10.2" text-anchor="start" fill="#000" font-weight="normal" ><tspan font-style="italic">T</tspan><tspan font-size="7.5" dy="2.5">2</tspan><tspan font-size="7.5" dy="-7.5">*</tspan><tspan dy="5"> = (2.1 ± 0.1) μs</tspan></text>
<rect x="552" y="261.2" width="22" height="12.8" fill="#007f00"/>
<rect x="615" y="261.2" width="21.7" height="12.8" fill="#007f00"/>
<line x1="574.00" y1="273.60" x2="615.00" y2="273.60" stroke="#55e055" stroke-width="0.9" />
<text x="563.00" y="270.50" font-size="7.5" text-anchor="middle" fill="#fff" font-weight="normal" >4 μs</text>
<text x="625.80" y="270.50" font-size="7.5" text-anchor="middle" fill="#fff" font-weight="normal" >4 μs</text>
<rect x="575" y="279.2" width="12.8" height="10.2" fill="#0000a0"/>
<rect x="600.8" y="279.2" width="12.9" height="10.2" fill="#0000a0"/>
<text x="581.40" y="287.40" font-size="7" text-anchor="middle" fill="#fff" font-weight="normal" >π/2</text>
<text x="607.25" y="287.40" font-size="7" text-anchor="middle" fill="#fff" font-weight="normal" >π/2</text>
<line x1="589.00" y1="285.20" x2="599.80" y2="285.20" stroke="#0000a0" stroke-width="0.7" />
<path d="M588,285.2 L590.5,284 L590.5,286.4 Z M600.8,285.2 L598.3,284 L598.3,286.4 Z" fill="#0000a0"/>
<text x="594.30" y="283.60" font-size="6.5" text-anchor="middle" fill="#0000a0" font-weight="normal" >τ</text>
<line x1="553.00" y1="289.40" x2="636.10" y2="289.40" stroke="#6060d0" stroke-width="0.8" />
<rect x="616" y="297.9" width="6" height="11.2" fill="#000"/>
<rect x="626.9" y="297.9" width="6.3" height="11.2" fill="#000"/>
<text x="619.00" y="306.60" font-size="9" text-anchor="middle" fill="#fff" font-weight="normal" textLength="5" lengthAdjust="spacingAndGlyphs">S</text>
<text x="630.05" y="306.60" font-size="9" text-anchor="middle" fill="#fff" font-weight="normal" textLength="5.2" lengthAdjust="spacingAndGlyphs">R</text>
<line x1="553.50" y1="309.50" x2="636.70" y2="309.50" stroke="#000" stroke-width="0.8" />
<text x="644.20" y="271.70" font-size="7.7" text-anchor="start" fill="#1a8a1a" font-weight="normal" >Laser</text>
<text x="644.20" y="288.40" font-size="7.7" text-anchor="start" fill="#2020c0" font-weight="normal" >MW</text>
<text x="644.60" y="307.50" font-size="7.7" text-anchor="start" fill="#111" font-weight="normal" >Readout</text>
</svg>
</body></html>
